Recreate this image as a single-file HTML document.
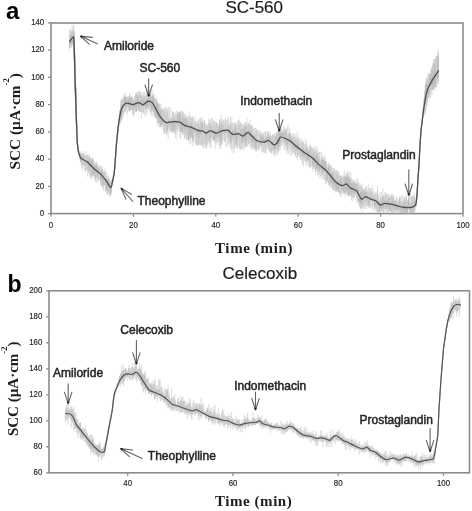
<!DOCTYPE html>
<html><head><meta charset="utf-8"><style>
html,body{margin:0;padding:0;background:#fff;}
body{width:472px;height:511px;overflow:hidden;}
svg{display:block;filter:blur(0.35px);}
</style></head><body>
<svg width="472" height="511" viewBox="0 0 472 511"><path d="M69.4,52.2 69.7,28.3 70.0,48.7 70.3,34.5 70.6,42.0 70.9,31.9 71.2,45.5 71.5,37.3 71.8,40.2 72.2,24.9 72.6,46.5 73.0,32.2 73.3,43.3 73.6,24.1 73.6,47.7 73.7,25.8 73.7,44.6 73.7,30.7 73.7,48.3 73.8,38.1 73.8,47.7 73.8,35.7 73.9,51.1 73.9,40.1 73.9,50.8 73.9,31.3 74.0,47.7 74.0,32.1 74.0,54.0 74.0,44.4 74.1,53.9 74.1,46.2 74.1,53.3 74.2,39.6 74.2,51.5 74.2,41.8 74.2,58.0 74.3,42.6 74.3,53.0 74.3,38.9 74.3,57.3 74.3,38.6 74.3,55.9 74.4,45.8 74.4,62.0 74.4,44.4 74.4,60.7 74.4,48.6 74.4,55.6 74.4,40.5 74.4,58.1 74.5,43.9 74.5,62.2 74.5,44.3 74.5,63.5 74.5,45.0 74.5,66.0 74.5,53.9 74.5,68.5 74.6,50.0 74.6,68.8 74.6,52.5 74.6,66.0 74.6,51.9 74.6,65.2 74.6,52.8 74.6,71.4 74.7,57.4 74.7,74.2 74.7,60.2 74.7,71.6 74.7,54.5 74.7,72.7 74.7,55.6 74.7,75.7 74.8,53.9 74.8,81.0 74.8,56.8 74.8,79.5 74.8,66.3 74.8,79.5 74.8,58.2 74.8,78.1 74.9,62.6 74.9,79.6 74.9,59.1 74.9,78.9 74.9,67.0 74.9,74.9 74.9,67.6 75.0,83.6 75.0,63.1 75.0,86.7 75.0,70.6 75.0,87.9 75.0,73.9 75.0,87.7 75.0,75.4 75.1,85.4 75.1,77.9 75.1,89.9 75.1,69.8 75.1,84.6 75.1,73.7 75.1,87.0 75.2,75.0 75.2,90.6 75.2,81.2 75.2,94.1 75.2,79.5 75.2,91.9 75.3,84.2 75.3,87.0 75.3,82.7 75.3,92.8 75.3,75.8 75.4,98.1 75.4,81.1 75.4,95.8 75.4,80.0 75.4,100.0 75.5,84.9 75.5,100.5 75.5,85.0 75.5,100.3 75.5,82.2 75.6,100.7 75.6,82.5 75.6,104.5 75.6,94.8 75.6,97.2 75.6,92.0 75.7,101.0 75.7,92.1 75.7,99.4 75.7,93.0 75.7,107.0 75.7,85.2 75.8,105.9 75.8,92.1 75.8,107.8 75.8,88.8 75.8,112.1 75.8,87.1 75.8,109.1 75.9,91.7 75.9,109.8 75.9,90.1 75.9,109.5 75.9,90.5 75.9,113.7 76.0,93.5 76.0,115.0 76.0,99.9 76.0,115.0 76.0,106.3 76.0,110.2 76.1,99.9 76.1,116.6 76.1,98.5 76.1,111.6 76.1,102.1 76.1,118.3 76.2,103.2 76.2,120.9 76.2,105.1 76.2,120.5 76.2,106.8 76.2,121.2 76.2,110.9 76.3,121.7 76.3,108.1 76.3,119.7 76.3,107.1 76.3,124.3 76.3,108.8 76.4,122.5 76.4,113.7 76.4,122.8 76.4,119.1 76.4,121.3 76.4,117.8 76.5,128.8 76.5,119.5 76.5,128.6 76.5,119.6 76.5,125.0 76.6,121.3 76.6,130.2 76.6,120.0 76.6,130.2 76.6,121.5 76.6,129.7 76.7,122.5 76.7,133.4 76.7,125.9 76.7,133.5 76.7,126.7 76.8,131.7 76.8,127.3 76.8,131.9 76.8,126.0 76.8,134.3 76.8,130.7 76.9,132.8 76.9,132.5 76.9,135.4 76.9,131.7 76.9,137.9 77.0,131.0 77.0,139.5 77.0,134.8 77.0,139.5 77.0,133.7 77.0,138.6 77.1,134.9 77.1,140.9 77.1,136.1 77.1,141.6 77.1,137.5 77.2,143.2 77.2,140.4 77.2,144.9 77.2,139.0 77.3,145.1 77.4,141.2 77.4,147.3 77.5,142.3 77.6,148.4 77.6,143.0 77.7,147.7 77.8,144.3 77.8,147.4 77.9,145.5 77.9,149.3 78.0,147.6 78.1,151.5 78.1,146.8 78.2,150.1 78.3,149.0 78.3,154.5 78.4,150.2 78.5,153.7 78.6,148.4 78.7,153.6 78.9,151.0 79.1,157.2 79.2,153.8 79.4,155.3 79.5,151.1 79.7,158.8 79.9,154.2 80.0,159.2 80.2,154.9 80.4,163.2 80.7,151.1 80.9,159.9 81.3,152.7 81.7,162.9 82.1,152.9 82.6,170.4 83.0,150.9 83.5,164.5 83.9,154.5 84.3,167.9 84.8,154.5 85.2,171.8 85.6,151.3 86.1,168.3 86.5,154.4 87.0,164.3 87.4,155.6 87.7,177.1 88.1,155.2 88.4,173.1 88.8,155.1 89.1,174.0 89.5,153.9 89.8,170.7 90.2,159.2 90.5,178.8 90.9,158.7 91.2,179.2 91.6,163.4 91.9,177.7 92.3,160.8 92.6,175.3 93.0,158.2 93.3,171.6 93.7,161.5 94.0,174.3 94.4,163.6 94.8,181.9 95.2,163.7 95.6,181.4 96.0,169.7 96.4,183.6 96.8,161.2 97.2,181.4 97.6,168.0 98.0,181.9 98.3,168.8 98.7,179.5 99.1,171.6 99.5,175.4 99.9,170.4 100.3,178.1 100.6,165.1 100.9,179.9 101.3,165.7 101.6,175.7 101.9,174.1 102.2,178.2 102.5,166.8 102.9,188.9 103.2,176.5 103.5,191.0 103.8,173.7 104.1,184.6 104.5,170.9 104.8,184.4 105.1,168.4 105.4,187.3 105.7,173.3 106.0,190.2 106.3,176.6 106.6,193.1 106.9,171.8 107.2,192.8 107.4,180.6 107.7,195.8 108.0,175.3 108.3,193.8 108.6,175.8 108.8,191.0 109.1,180.4 109.4,195.2 109.7,184.1 110.0,196.9 110.2,183.6 110.5,192.0 110.8,180.7 110.9,193.6 111.1,184.2 111.2,192.2 111.3,180.2 111.4,191.4 111.6,180.3 111.7,186.8 111.8,181.2 112.0,185.7 112.1,182.2 112.2,184.8 112.4,179.9 112.5,183.4 112.6,178.5 112.7,181.0 112.8,178.8 112.9,182.5 113.0,177.6 113.1,179.8 113.2,177.5 113.3,178.9 113.4,175.0 113.5,176.9 113.6,174.7 113.7,176.8 113.8,174.2 113.9,177.3 114.0,170.9 114.1,176.9 114.2,171.1 114.3,173.2 114.3,170.3 114.4,173.9 114.4,169.2 114.4,173.7 114.5,167.1 114.5,173.0 114.6,167.1 114.6,170.0 114.6,164.9 114.7,170.6 114.7,166.3 114.8,167.9 114.8,163.5 114.8,168.7 114.9,161.8 114.9,164.9 114.9,163.0 115.0,165.5 115.0,160.8 115.1,165.7 115.1,159.7 115.1,163.8 115.2,159.8 115.2,163.2 115.3,158.0 115.3,162.8 115.3,158.0 115.4,159.5 115.4,156.5 115.4,159.3 115.5,155.1 115.5,157.7 115.6,153.4 115.6,158.7 115.6,155.0 115.7,158.2 115.7,153.4 115.8,155.4 115.8,150.9 115.8,154.8 115.9,150.8 115.9,154.7 115.9,147.8 116.0,152.1 116.0,149.0 116.1,152.1 116.1,148.1 116.1,152.2 116.2,144.8 116.2,151.0 116.3,145.1 116.3,149.9 116.3,144.2 116.4,147.9 116.4,144.3 116.4,145.1 116.5,141.6 116.5,144.8 116.6,139.9 116.6,145.0 116.6,140.0 116.7,144.7 116.7,139.7 116.7,140.9 116.8,138.9 116.8,141.8 116.9,138.2 117.0,140.2 117.0,135.4 117.1,139.4 117.1,135.6 117.2,138.0 117.2,134.1 117.3,139.1 117.4,134.2 117.4,137.5 117.5,131.7 117.5,136.0 117.6,131.2 117.7,134.7 117.7,131.6 117.8,133.8 117.8,128.3 117.9,133.3 118.0,128.4 118.0,131.6 118.1,126.5 118.1,128.9 118.2,127.2 118.3,130.7 118.3,125.0 118.4,129.5 118.4,124.3 118.5,126.2 118.5,123.3 118.6,127.1 118.7,123.7 118.7,125.8 118.8,120.3 118.8,123.4 118.9,121.9 119.0,122.5 119.0,118.9 119.1,124.2 119.1,119.2 119.2,123.7 119.3,117.6 119.3,122.2 119.4,113.6 119.6,119.3 119.7,113.5 119.8,123.3 119.9,112.4 120.0,123.5 120.1,110.1 120.3,123.9 120.4,109.3 120.5,122.5 120.6,111.6 120.7,118.3 120.8,109.3 120.9,118.6 121.1,104.6 121.2,116.0 121.3,103.3 121.4,120.2 121.5,100.4 121.6,114.3 121.7,99.0 121.9,118.0 122.1,100.7 122.4,114.6 122.7,103.1 123.0,117.3 123.3,99.9 123.6,111.2 123.9,93.3 124.2,110.7 124.5,100.2 124.8,110.6 125.1,95.8 125.4,112.2 125.9,96.7 126.4,113.2 126.9,102.3 127.4,115.0 127.9,96.0 128.4,110.6 128.9,96.2 129.4,108.9 129.9,92.8 130.3,111.2 130.8,101.4 131.3,110.4 131.8,96.6 132.3,110.8 132.8,101.8 133.2,116.2 133.7,100.6 134.2,114.9 134.6,96.6 135.1,111.7 135.6,94.0 136.1,104.4 136.5,95.3 137.0,110.9 137.5,95.3 137.9,103.0 138.4,101.9 138.9,111.3 139.3,94.3 139.7,109.8 140.2,99.7 140.6,111.3 141.0,92.2 141.5,117.6 141.9,92.4 142.3,104.8 142.7,97.7 143.2,113.3 143.6,91.9 144.0,114.4 144.4,91.4 144.8,114.9 145.2,100.7 145.6,117.5 146.0,93.4 146.4,112.2 146.8,96.5 147.2,115.1 147.6,86.9 148.0,108.3 148.4,92.6 148.9,103.8 149.3,90.1 149.8,112.3 150.3,96.8 150.7,114.5 151.2,93.0 151.7,116.3 152.1,90.2 152.5,106.2 152.8,98.3 153.0,116.1 153.3,103.0 153.5,108.2 153.8,93.1 154.0,117.0 154.3,100.6 154.5,113.4 154.8,105.2 155.0,111.2 155.3,107.1 155.5,118.1 155.8,98.9 156.0,113.3 156.2,96.5 156.5,119.5 156.7,98.9 157.0,123.1 157.2,105.6 157.4,125.6 157.7,103.2 157.9,122.7 158.2,108.9 158.4,120.2 158.7,104.4 158.9,127.5 159.1,105.1 159.4,126.4 159.6,102.3 159.9,125.0 160.2,115.5 160.5,126.8 160.9,103.7 161.2,119.3 161.6,109.8 161.9,128.7 162.3,110.2 162.6,122.3 163.0,110.7 163.3,122.6 163.7,117.6 164.0,128.2 164.4,115.9 164.7,131.5 165.1,107.3 165.4,128.3 165.8,106.3 166.2,131.2 166.7,107.6 167.2,134.3 167.7,108.1 168.2,139.3 168.7,107.1 169.2,127.3 169.7,106.7 170.2,126.6 170.7,109.3 171.2,124.1 171.7,115.5 172.2,126.3 172.7,111.4 173.2,129.4 173.7,112.0 174.2,127.7 174.7,114.0 175.2,137.8 175.7,111.7 176.1,132.7 176.6,110.3 177.1,139.4 177.6,115.1 178.1,126.3 178.6,116.4 179.1,127.5 179.6,114.2 180.1,137.4 180.5,110.7 180.9,127.0 181.3,118.8 181.8,132.9 182.2,111.1 182.6,135.1 183.0,114.8 183.4,132.5 183.8,115.1 184.3,139.2 184.7,118.2 185.1,139.2 185.6,113.5 186.0,135.8 186.5,117.0 187.0,131.0 187.5,120.1 188.0,128.8 188.4,124.2 188.9,130.9 189.4,111.0 189.9,144.6 190.4,115.5 190.8,144.3 191.3,122.4 191.8,138.2 192.3,116.3 192.7,146.4 193.2,117.3 193.6,133.9 194.1,126.4 194.5,131.1 195.0,116.5 195.4,145.9 195.9,125.4 196.3,145.1 196.8,128.1 197.3,145.8 197.7,119.1 198.2,141.3 198.6,121.7 199.1,137.3 199.6,117.2 200.1,138.2 200.6,124.9 201.1,145.4 201.6,121.1 202.1,142.2 202.6,121.0 203.1,135.2 203.5,128.1 203.9,148.6 204.3,120.7 204.8,144.7 205.2,122.8 205.6,139.5 206.0,128.8 206.4,145.2 206.9,132.2 207.3,134.3 207.7,125.1 208.2,144.2 208.6,118.4 209.0,141.7 209.4,124.6 209.9,147.8 210.3,124.4 210.7,141.4 211.2,122.3 211.7,133.4 212.1,128.1 212.6,132.3 213.1,119.7 213.5,141.0 214.0,120.7 214.4,142.5 214.9,123.3 215.4,148.5 215.8,125.2 216.3,136.9 216.7,122.3 217.2,134.6 217.7,123.5 218.1,141.2 218.6,124.2 219.0,145.9 219.5,119.2 220.0,149.2 220.4,118.2 220.9,148.6 221.4,114.6 221.8,141.9 222.3,122.4 222.8,132.7 223.3,120.2 223.8,133.8 224.3,124.2 224.8,142.1 225.3,120.7 225.8,147.6 226.3,119.9 226.8,146.1 227.3,128.9 227.8,145.0 228.3,116.9 228.6,131.7 229.0,122.6 229.3,145.6 229.7,127.4 230.1,147.7 230.4,116.6 230.8,148.9 231.1,120.7 231.5,150.0 231.8,117.0 232.2,153.6 232.6,125.9 233.1,149.2 233.6,130.5 234.1,153.1 234.6,131.4 235.1,143.0 235.6,122.0 236.1,141.4 236.6,124.1 237.0,143.5 237.5,121.5 238.0,145.0 238.5,119.2 239.0,147.6 239.4,120.5 239.9,135.7 240.3,123.4 240.7,149.5 241.2,131.2 241.6,149.6 242.1,123.7 242.5,138.8 242.9,126.2 243.3,142.8 243.7,128.4 244.1,150.4 244.5,125.6 244.9,143.7 245.3,122.8 245.7,142.1 246.1,130.1 246.5,147.4 246.9,129.0 247.3,146.9 247.7,118.2 248.1,142.0 248.5,129.5 248.8,142.5 249.2,124.3 249.6,146.8 250.0,119.8 250.4,140.7 250.7,133.4 251.1,149.3 251.5,135.3 251.9,148.9 252.3,124.5 252.6,148.9 253.0,130.0 253.3,141.9 253.7,128.5 254.1,145.5 254.4,128.3 254.8,143.0 255.2,131.4 255.5,151.3 255.9,130.8 256.3,152.1 256.6,130.2 257.1,144.0 257.5,131.5 258.0,145.0 258.5,138.7 259.0,150.5 259.5,140.6 260.0,143.2 260.5,134.7 260.9,145.5 261.4,132.3 261.9,147.1 262.4,136.9 262.9,150.3 263.4,134.2 263.8,152.9 264.3,131.3 264.8,153.3 265.3,138.7 265.7,143.4 266.2,131.3 266.7,147.9 267.2,139.2 267.6,149.0 268.1,134.7 268.6,145.2 269.0,130.6 269.4,151.3 269.7,136.0 270.1,151.3 270.5,137.3 270.9,154.0 271.3,136.0 271.7,150.5 272.1,139.5 272.4,151.0 272.8,138.5 273.2,154.9 273.6,141.2 274.0,153.2 274.5,136.9 274.9,156.4 275.4,134.4 275.8,152.2 276.3,139.7 276.7,146.4 277.1,133.2 277.4,155.6 277.6,139.2 277.9,150.0 278.1,133.3 278.4,142.0 278.6,129.7 278.9,148.3 279.1,131.2 279.4,150.8 279.6,128.7 279.9,143.3 280.1,123.7 280.4,150.4 280.8,126.9 281.2,140.4 281.7,128.2 282.2,137.7 282.7,132.2 283.2,145.0 283.6,130.1 284.1,149.4 284.6,128.9 285.1,148.7 285.6,129.8 286.0,150.3 286.4,133.9 286.9,152.7 287.3,125.7 287.7,153.5 288.2,125.1 288.6,153.0 289.1,133.7 289.5,154.5 289.9,128.0 290.4,149.9 290.8,138.1 291.2,156.1 291.5,136.6 291.9,147.0 292.3,133.0 292.7,154.9 293.0,137.8 293.4,148.3 293.8,133.1 294.2,153.0 294.6,135.8 294.9,154.1 295.3,134.0 295.7,156.9 296.1,140.1 296.4,153.7 296.8,132.0 297.2,160.1 297.6,137.1 298.0,154.3 298.4,134.4 298.8,154.3 299.2,140.3 299.6,157.8 300.0,138.3 300.4,160.1 300.8,138.7 301.2,155.3 301.6,142.8 302.0,163.1 302.4,140.0 302.8,165.2 303.2,148.8 303.5,166.6 303.9,142.3 304.3,159.3 304.8,149.3 305.2,155.6 305.6,138.8 306.0,165.3 306.4,139.7 306.8,166.1 307.2,147.0 307.6,158.9 308.0,146.5 308.5,160.3 308.9,151.5 309.3,164.7 309.7,147.0 310.1,168.7 310.5,145.4 310.9,158.0 311.3,153.3 311.7,166.0 312.2,147.2 312.6,171.5 312.9,148.4 313.3,167.9 313.6,158.5 314.0,167.8 314.4,146.3 314.7,162.6 315.1,150.3 315.4,174.7 315.8,146.6 316.1,162.7 316.5,155.1 316.8,167.2 317.2,147.6 317.5,175.7 317.9,156.9 318.2,171.7 318.6,152.1 318.9,165.9 319.3,159.9 319.7,178.1 320.1,158.1 320.5,171.7 320.9,151.4 321.2,178.2 321.6,152.4 322.0,179.4 322.4,157.4 322.8,172.5 323.2,155.9 323.6,178.2 324.0,156.3 324.4,180.1 324.8,155.5 325.2,171.9 325.5,165.0 325.8,184.2 326.1,158.3 326.5,184.7 326.8,169.0 327.1,181.7 327.5,171.3 327.8,177.1 328.1,170.8 328.4,178.4 328.8,167.2 329.1,176.7 329.4,163.2 329.7,184.1 330.1,164.4 330.4,187.8 330.7,170.0 331.0,181.4 331.4,170.2 331.7,188.0 332.0,167.6 332.3,187.9 332.7,173.2 333.0,182.1 333.3,170.5 333.6,191.3 334.0,174.0 334.3,190.9 334.6,169.1 334.9,187.9 335.2,170.3 335.7,193.1 336.1,177.0 336.5,187.4 336.9,174.9 337.4,187.0 337.8,175.6 338.2,193.1 338.6,171.4 339.0,193.1 339.5,174.7 339.9,196.2 340.3,180.0 340.7,195.3 341.2,177.6 341.6,197.2 342.0,180.5 342.5,191.0 342.9,181.4 343.4,192.9 343.9,172.9 344.3,190.9 344.8,170.2 345.3,196.5 345.7,178.1 346.2,192.8 346.6,173.6 346.9,188.4 347.3,173.4 347.6,196.0 348.0,170.7 348.3,192.6 348.7,181.8 349.1,196.5 349.4,172.3 349.8,191.0 350.1,181.9 350.5,191.4 350.9,172.4 351.4,200.7 351.8,185.3 352.3,201.5 352.7,179.9 353.2,190.6 353.7,186.9 354.1,195.5 354.6,187.9 355.0,194.7 355.5,187.6 355.9,194.6 356.4,187.1 356.7,199.3 356.9,178.0 357.2,204.0 357.4,182.4 357.7,195.0 357.9,178.7 358.2,196.0 358.5,193.3 358.7,204.8 359.0,185.2 359.2,205.1 359.5,190.2 359.7,207.0 360.0,184.8 360.3,198.8 360.5,183.5 360.8,208.5 361.0,185.1 361.3,207.0 361.6,186.0 362.0,212.3 362.4,183.6 362.9,204.6 363.3,193.0 363.7,208.7 364.1,188.0 364.6,209.7 365.0,187.6 365.4,200.9 365.9,188.7 366.3,209.2 366.7,186.0 367.2,201.6 367.6,192.3 368.1,204.9 368.5,183.6 369.0,207.2 369.4,191.7 369.9,203.8 370.3,192.8 370.7,208.3 371.2,193.6 371.7,202.7 372.2,185.3 372.6,210.6 373.1,188.4 373.6,205.8 374.1,191.1 374.6,212.5 375.0,193.9 375.5,208.8 376.0,197.3 376.3,208.9 376.7,198.3 377.0,212.5 377.4,186.3 377.7,205.3 378.1,194.7 378.4,212.5 378.8,199.6 379.1,212.5 379.5,200.7 379.8,212.5 380.2,191.9 380.7,212.5 381.1,191.9 381.6,210.5 382.1,194.5 382.5,207.6 383.0,188.8 383.4,212.5 383.9,194.7 384.4,212.3 384.9,192.0 385.4,210.4 385.9,196.0 386.4,212.5 386.9,199.1 387.4,212.5 387.8,193.7 388.3,211.5 388.8,195.5 389.3,204.7 389.8,197.6 390.3,211.2 390.8,202.2 391.3,204.9 391.8,203.9 392.3,212.5 392.8,204.1 393.3,212.5 393.7,195.3 394.2,212.5 394.7,203.4 395.2,212.5 395.7,200.4 396.2,212.5 396.6,198.7 397.1,209.6 397.6,198.2 398.1,211.3 398.6,202.4 399.1,212.5 399.5,201.6 400.0,212.5 400.5,196.0 401.0,212.5 401.5,196.4 402.0,212.5 402.4,194.6 402.9,207.8 403.4,202.0 403.9,212.5 404.4,198.8 404.9,212.5 405.4,199.8 405.9,212.5 406.4,196.3 406.9,212.0 407.4,200.6 407.9,212.5 408.4,200.9 408.9,212.5 409.4,203.7 409.9,211.8 410.4,193.1 410.9,211.7 411.4,203.0 411.9,208.1 412.4,204.6 412.8,212.5 413.2,196.5 413.6,212.5 414.0,192.4 414.4,211.4 414.8,196.9 415.2,210.4 415.6,201.0 415.8,208.2 415.8,201.7 415.9,205.8 416.0,200.8 416.0,203.6 416.1,200.8 416.2,201.9 416.3,199.3 416.3,202.2 416.4,198.4 416.5,200.3 416.5,197.3 416.6,199.2 416.7,196.2 416.7,199.4 416.8,196.0 416.9,197.9 416.9,194.8 417.0,196.5 417.0,193.1 417.0,195.4 417.0,192.1 417.1,195.4 417.1,192.4 417.1,194.5 417.2,190.8 417.2,192.6 417.2,189.7 417.3,191.6 417.3,188.8 417.3,191.2 417.3,188.0 417.4,189.1 417.4,186.3 417.4,188.7 417.5,185.7 417.5,187.1 417.5,184.4 417.6,187.0 417.6,183.5 417.6,186.4 417.6,183.6 417.7,184.8 417.7,182.7 417.7,183.6 417.8,180.5 417.8,183.3 417.8,180.1 417.9,182.4 417.9,178.1 417.9,181.4 418.0,177.8 418.0,180.0 418.0,176.8 418.1,177.9 418.1,176.2 418.1,178.4 418.2,175.3 418.2,176.9 418.2,173.2 418.3,175.9 418.3,172.3 418.4,175.2 418.4,172.4 418.4,172.8 418.5,170.4 418.5,173.4 418.5,169.4 418.6,172.8 418.6,169.3 418.6,170.0 418.7,166.9 418.7,170.8 418.7,165.6 418.8,169.8 418.8,165.7 418.9,168.2 418.9,164.2 418.9,167.2 419.0,163.7 419.0,166.6 419.0,162.2 419.1,163.8 419.1,161.0 419.1,163.7 419.2,160.4 419.2,163.6 419.2,159.4 419.2,161.5 419.3,158.3 419.3,160.9 419.3,158.3 419.3,159.3 419.3,156.0 419.4,159.0 419.4,155.7 419.4,157.8 419.4,154.4 419.5,157.3 419.5,153.2 419.5,155.5 419.5,152.5 419.6,155.0 419.6,152.6 419.6,154.7 419.6,150.3 419.7,153.1 419.7,149.5 419.7,152.2 419.7,148.7 419.8,151.1 419.8,147.1 419.8,149.8 419.8,146.4 419.9,147.7 419.9,146.1 419.9,148.2 419.9,144.5 420.0,146.0 420.0,144.0 420.0,145.8 420.1,142.3 420.1,144.1 420.2,142.5 420.2,143.5 420.2,140.9 420.3,143.3 420.3,139.9 420.3,142.4 420.4,139.2 420.4,140.8 420.4,137.1 420.5,139.9 420.5,136.7 420.6,138.9 420.6,136.6 420.6,138.2 420.7,135.8 420.7,136.3 420.7,133.1 420.8,136.6 420.8,131.7 420.8,135.6 420.9,131.8 420.9,133.5 420.9,131.2 421.0,132.6 421.0,128.8 421.1,132.0 421.1,128.5 421.1,131.2 421.2,128.5 421.3,130.4 421.3,128.1 421.4,129.4 421.4,126.2 421.5,128.9 421.6,124.5 421.6,127.0 421.7,124.6 421.7,125.6 421.8,123.2 421.9,125.7 421.9,121.8 422.0,124.0 422.0,120.8 422.1,122.8 422.2,119.5 422.2,122.0 422.3,118.8 422.3,121.3 422.4,117.7 422.5,119.4 422.5,116.2 422.6,118.4 422.7,115.6 422.7,118.7 422.8,114.1 422.8,116.8 422.9,113.8 423.0,116.4 423.0,113.3 423.1,115.4 423.2,110.7 423.2,114.2 423.3,108.4 423.3,116.6 423.4,111.1 423.5,116.4 423.5,106.0 423.6,115.6 423.7,104.1 423.8,113.6 423.9,106.5 423.9,111.6 424.0,106.0 424.1,113.2 424.2,98.2 424.3,111.2 424.3,94.4 424.4,115.5 424.5,99.1 424.6,109.7 424.7,98.2 424.7,107.7 424.8,91.1 424.9,113.2 425.0,85.4 425.0,110.4 425.1,90.7 425.2,114.0 425.3,97.0 425.4,108.3 425.5,90.4 425.6,110.2 425.7,89.0 425.8,101.1 425.9,79.1 426.0,110.5 426.1,79.0 426.2,99.5 426.3,86.0 426.5,101.8 426.6,83.9 426.7,102.6 426.8,77.9 426.9,106.0 427.0,77.5 427.1,103.1 427.2,80.4 427.3,96.4 427.5,73.4 427.7,96.7 428.0,72.9 428.2,99.6 428.4,79.8 428.6,92.5 428.9,73.4 429.1,97.4 429.3,74.3 429.5,95.0 429.8,77.9 430.0,98.1 430.2,73.3 430.4,97.4 430.6,68.3 430.9,94.8 431.1,77.0 431.3,86.2 431.5,72.2 431.8,95.4 432.0,75.9 432.2,82.7 432.5,73.5 432.7,85.4 433.0,66.1 433.3,82.3 433.6,62.7 433.8,88.2 434.1,63.9 434.4,90.2 434.7,67.1 434.9,90.7 435.2,63.9 435.5,86.7 435.7,58.3 436.0,82.6 436.3,56.7 436.6,75.5 436.8,59.9 437.1,83.1 437.4,68.1 437.7,83.9 437.9,49.2 438.2,84.0 438.5,59.8" fill="none" stroke="#dedede" stroke-width="0.6"/><path d="M69.4,44.3 69.6,34.6 69.8,47.5 70.0,40.0 70.2,43.2 70.4,30.5 70.6,41.7 70.8,37.0 71.0,47.9 71.2,31.4 71.5,43.3 71.7,31.7 72.0,45.0 72.2,33.6 72.5,40.5 72.8,28.8 73.0,44.4 73.3,30.6 73.6,44.4 73.6,30.3 73.6,45.8 73.7,34.5 73.7,44.0 73.7,32.4 73.7,43.3 73.7,32.2 73.8,43.1 73.8,31.0 73.8,48.6 73.8,37.9 73.8,47.0 73.8,36.2 73.9,43.9 73.9,31.1 73.9,48.2 73.9,39.5 73.9,51.1 74.0,39.2 74.0,53.5 74.0,39.7 74.0,45.9 74.0,40.6 74.1,50.6 74.1,38.0 74.1,55.6 74.1,36.3 74.1,51.9 74.2,46.4 74.2,50.7 74.2,35.7 74.2,54.1 74.2,38.9 74.2,50.5 74.3,48.0 74.3,57.9 74.3,41.0 74.3,55.0 74.3,44.7 74.3,53.1 74.3,47.5 74.3,52.7 74.4,40.9 74.4,58.5 74.4,49.5 74.4,61.4 74.4,49.1 74.4,55.6 74.4,45.0 74.4,63.9 74.4,53.8 74.4,63.5 74.4,51.5 74.5,58.0 74.5,55.5 74.5,60.9 74.5,47.4 74.5,63.3 74.5,46.8 74.5,61.5 74.5,52.9 74.5,62.5 74.5,48.3 74.5,67.6 74.5,54.6 74.6,65.1 74.6,55.5 74.6,67.6 74.6,59.9 74.6,63.1 74.6,56.2 74.6,65.6 74.6,53.3 74.6,69.7 74.6,56.4 74.6,69.9 74.7,55.4 74.7,71.4 74.7,54.8 74.7,67.5 74.7,57.8 74.7,68.1 74.7,60.1 74.7,73.4 74.7,57.2 74.7,74.0 74.7,66.4 74.7,72.0 74.8,65.0 74.8,76.7 74.8,66.0 74.8,72.5 74.8,64.3 74.8,71.3 74.8,60.7 74.8,76.8 74.8,67.9 74.8,76.8 74.8,69.7 74.9,78.2 74.9,68.4 74.9,73.8 74.9,70.6 74.9,79.1 74.9,66.1 74.9,78.1 74.9,66.6 74.9,79.0 74.9,72.5 75.0,79.5 75.0,70.2 75.0,84.3 75.0,73.7 75.0,79.0 75.0,68.8 75.0,86.9 75.0,66.8 75.0,85.6 75.0,76.7 75.0,87.2 75.1,70.5 75.1,82.4 75.1,73.3 75.1,81.8 75.1,71.0 75.1,88.2 75.1,71.3 75.1,89.1 75.1,77.4 75.1,90.3 75.1,78.2 75.2,85.8 75.2,77.5 75.2,89.6 75.2,79.6 75.2,90.6 75.2,77.3 75.2,89.1 75.2,76.9 75.2,90.9 75.3,76.2 75.3,91.2 75.3,76.3 75.3,92.8 75.3,80.2 75.3,94.7 75.3,81.4 75.4,92.4 75.4,77.9 75.4,91.5 75.4,84.7 75.4,96.2 75.4,89.5 75.4,93.6 75.5,81.3 75.5,99.0 75.5,84.3 75.5,100.0 75.5,83.8 75.5,96.9 75.5,85.4 75.6,98.2 75.6,84.7 75.6,99.3 75.6,91.4 75.6,103.6 75.6,86.2 75.6,103.7 75.6,88.3 75.7,104.2 75.7,89.7 75.7,103.6 75.7,95.8 75.7,104.4 75.7,87.6 75.7,106.5 75.7,88.8 75.7,105.3 75.8,89.2 75.8,102.1 75.8,90.3 75.8,105.5 75.8,98.9 75.8,107.5 75.8,95.6 75.8,106.9 75.8,93.2 75.9,105.2 75.9,95.3 75.9,108.3 75.9,96.9 75.9,110.0 75.9,101.3 75.9,111.2 75.9,94.0 75.9,108.9 76.0,105.4 76.0,108.1 76.0,99.0 76.0,116.7 76.0,105.8 76.0,116.9 76.0,100.5 76.0,110.8 76.0,102.5 76.1,112.1 76.1,101.3 76.1,115.5 76.1,105.4 76.1,114.0 76.1,101.4 76.1,118.2 76.1,105.5 76.1,116.2 76.2,104.4 76.2,120.0 76.2,111.2 76.2,115.6 76.2,108.8 76.2,118.8 76.2,112.9 76.2,115.9 76.2,111.9 76.3,119.2 76.3,108.8 76.3,121.2 76.3,115.6 76.3,117.9 76.3,111.6 76.3,124.1 76.3,110.2 76.3,121.7 76.4,111.4 76.4,125.0 76.4,115.0 76.4,124.6 76.4,116.3 76.4,122.1 76.4,115.8 76.4,122.3 76.5,116.2 76.5,126.5 76.5,115.9 76.5,125.7 76.5,121.3 76.5,128.0 76.5,117.8 76.5,128.8 76.6,119.9 76.6,128.4 76.6,121.8 76.6,126.9 76.6,123.2 76.6,129.7 76.6,123.7 76.6,130.3 76.7,123.6 76.7,130.1 76.7,122.5 76.7,129.5 76.7,125.3 76.7,130.0 76.7,124.4 76.7,132.1 76.8,127.6 76.8,131.4 76.8,127.5 76.8,132.9 76.8,130.2 76.8,132.0 76.8,129.9 76.8,134.7 76.9,130.2 76.9,136.0 76.9,130.1 76.9,136.7 76.9,131.3 76.9,136.2 76.9,132.8 76.9,136.6 77.0,133.9 77.0,136.1 77.0,133.9 77.0,137.5 77.0,136.6 77.0,138.8 77.0,135.5 77.1,139.4 77.1,136.8 77.1,140.6 77.1,138.1 77.1,139.4 77.1,137.7 77.1,141.8 77.1,137.8 77.2,142.3 77.2,138.6 77.2,141.6 77.2,141.5 77.2,144.1 77.3,141.4 77.3,143.2 77.3,142.5 77.4,144.8 77.4,142.6 77.5,145.9 77.5,142.0 77.6,146.2 77.6,144.3 77.7,147.6 77.7,145.9 77.8,147.7 77.8,145.3 77.8,148.4 77.9,146.9 77.9,149.4 78.0,146.0 78.0,150.6 78.1,146.1 78.1,150.4 78.2,147.3 78.2,151.3 78.2,149.0 78.3,153.0 78.3,148.4 78.4,154.0 78.4,148.9 78.5,154.5 78.6,151.4 78.7,152.7 78.8,151.8 78.9,154.8 79.0,151.0 79.1,155.6 79.2,152.0 79.4,157.1 79.5,154.2 79.6,157.6 79.7,155.0 79.8,157.1 79.9,153.5 80.0,159.1 80.2,154.7 80.3,159.1 80.4,153.2 80.6,160.1 80.8,157.4 81.0,161.1 81.2,158.0 81.5,166.1 81.8,156.8 82.1,168.7 82.5,156.0 82.8,164.1 83.1,153.3 83.4,164.9 83.7,154.9 84.0,162.7 84.3,155.2 84.6,161.4 84.9,157.1 85.2,170.7 85.5,157.3 85.8,165.3 86.1,155.0 86.4,170.5 86.7,157.9 87.0,167.1 87.3,155.4 87.6,170.7 87.8,156.4 88.1,165.9 88.3,160.3 88.6,171.5 88.8,157.0 89.1,173.1 89.3,157.0 89.5,170.4 89.8,161.9 90.0,176.1 90.3,157.2 90.5,173.7 90.8,157.8 91.0,172.1 91.3,161.5 91.5,174.1 91.8,160.8 92.0,176.0 92.3,158.0 92.5,177.3 92.7,162.7 93.0,173.6 93.2,159.4 93.5,174.3 93.7,160.7 94.0,171.1 94.2,163.7 94.5,176.2 94.8,162.3 95.0,179.6 95.3,167.3 95.6,177.9 95.9,164.0 96.1,173.6 96.4,163.4 96.7,178.0 97.0,163.2 97.2,174.8 97.5,166.2 97.8,176.9 98.1,165.7 98.3,180.4 98.6,167.1 98.9,177.8 99.2,167.6 99.5,178.6 99.7,165.7 100.0,180.1 100.3,168.7 100.5,178.5 100.7,170.9 100.9,184.8 101.2,171.0 101.4,184.8 101.6,169.6 101.8,186.2 102.1,173.3 102.3,187.4 102.5,169.3 102.7,184.5 102.9,170.0 103.2,186.4 103.4,172.6 103.6,185.9 103.8,174.9 104.1,179.1 104.3,172.3 104.5,185.5 104.7,171.6 105.0,183.9 105.2,172.3 105.4,191.2 105.6,172.1 105.9,191.7 106.1,178.1 106.3,184.6 106.5,178.0 106.7,187.4 106.9,179.9 107.1,185.4 107.3,181.8 107.4,193.9 107.6,178.7 107.8,191.8 108.0,178.8 108.2,193.1 108.4,177.2 108.6,190.5 108.8,179.2 109.0,187.6 109.2,181.6 109.4,190.0 109.6,181.9 109.8,191.8 110.0,180.6 110.2,192.5 110.4,183.4 110.6,195.6 110.8,187.3 110.9,187.7 111.0,186.1 111.1,193.7 111.1,182.6 111.2,191.0 111.3,181.5 111.4,187.2 111.5,181.5 111.6,186.4 111.7,182.2 111.8,186.8 111.9,181.2 112.0,184.5 112.1,181.5 112.1,183.0 112.2,181.3 112.3,184.5 112.4,179.4 112.5,183.0 112.6,178.8 112.7,183.0 112.7,179.1 112.8,182.4 112.9,178.2 112.9,180.0 113.0,177.3 113.1,180.3 113.1,176.4 113.2,179.8 113.3,177.3 113.4,179.0 113.4,174.6 113.5,178.4 113.6,173.8 113.6,177.4 113.7,173.4 113.8,175.9 113.8,172.6 113.9,175.9 114.0,171.9 114.0,175.0 114.1,171.7 114.2,175.3 114.2,170.7 114.3,174.4 114.3,169.4 114.4,172.3 114.4,170.8 114.4,172.8 114.4,168.3 114.5,172.2 114.5,168.9 114.5,170.2 114.5,167.8 114.6,170.4 114.6,167.1 114.6,170.0 114.7,166.8 114.7,169.9 114.7,166.1 114.7,167.4 114.8,165.3 114.8,168.6 114.8,164.9 114.8,166.7 114.9,162.4 114.9,166.2 114.9,161.7 115.0,164.4 115.0,160.9 115.0,164.5 115.0,162.1 115.1,164.9 115.1,159.6 115.1,164.7 115.1,159.4 115.2,163.6 115.2,158.5 115.2,162.2 115.3,159.5 115.3,162.0 115.3,158.1 115.3,160.3 115.4,157.2 115.4,158.7 115.4,157.9 115.4,158.8 115.5,155.7 115.5,159.1 115.5,154.3 115.5,158.5 115.6,153.7 115.6,157.5 115.6,153.3 115.7,156.8 115.7,154.1 115.7,154.7 115.7,151.8 115.8,154.5 115.8,151.0 115.8,154.4 115.8,152.4 115.9,154.2 115.9,150.1 115.9,152.0 115.9,149.9 116.0,152.1 116.0,148.9 116.0,152.5 116.1,148.8 116.1,151.2 116.1,146.9 116.1,151.5 116.2,147.6 116.2,148.6 116.2,146.7 116.2,148.3 116.3,146.1 116.3,147.1 116.3,145.3 116.3,146.8 116.4,144.0 116.4,147.1 116.4,143.5 116.5,145.3 116.5,143.6 116.5,144.8 116.5,142.7 116.6,144.6 116.6,140.6 116.6,144.4 116.6,141.2 116.7,142.0 116.7,140.9 116.7,142.6 116.7,139.2 116.8,142.4 116.8,139.4 116.8,140.7 116.9,137.1 116.9,140.8 117.0,136.8 117.0,140.8 117.1,137.2 117.1,138.5 117.1,135.3 117.2,138.7 117.2,133.8 117.3,138.8 117.3,133.9 117.3,137.8 117.4,133.0 117.4,135.5 117.5,132.5 117.5,135.3 117.5,132.3 117.6,134.2 117.6,132.9 117.7,135.2 117.7,130.1 117.8,134.3 117.8,130.3 117.8,132.9 117.9,130.0 117.9,132.7 118.0,127.6 118.0,132.4 118.0,126.7 118.1,130.4 118.1,126.5 118.2,129.3 118.2,126.2 118.3,128.5 118.3,125.5 118.3,129.1 118.4,125.4 118.4,127.8 118.5,123.9 118.5,127.3 118.5,123.9 118.6,125.7 118.6,123.5 118.7,126.8 118.7,121.3 118.7,125.1 118.8,120.9 118.8,125.3 118.9,121.6 118.9,123.3 119.0,120.0 119.0,122.7 119.0,118.7 119.1,122.2 119.1,118.2 119.2,122.6 119.2,118.7 119.2,122.5 119.3,117.4 119.4,119.7 119.4,117.8 119.5,120.7 119.6,114.3 119.7,119.5 119.8,112.3 119.8,119.1 119.9,111.1 120.0,116.7 120.1,113.0 120.2,117.5 120.2,110.7 120.3,118.3 120.4,110.3 120.5,121.0 120.6,107.9 120.6,119.5 120.7,107.9 120.8,120.8 120.9,106.0 121.0,120.9 121.0,100.8 121.1,119.9 121.2,104.0 121.3,115.5 121.4,99.2 121.4,120.0 121.5,99.2 121.6,113.7 121.7,102.1 121.8,119.5 121.9,103.4 122.0,117.7 122.2,99.8 122.4,111.5 122.6,101.2 122.8,108.9 123.0,98.0 123.2,114.5 123.4,104.9 123.6,110.1 123.9,97.2 124.1,108.5 124.3,98.3 124.5,113.0 124.7,97.5 124.9,106.5 125.1,94.4 125.3,111.5 125.7,96.4 126.0,108.2 126.4,96.4 126.7,108.7 127.1,100.9 127.4,105.9 127.8,102.1 128.1,106.5 128.5,99.4 128.8,110.8 129.1,96.0 129.5,111.4 129.8,94.4 130.2,106.0 130.5,97.9 130.8,106.3 131.2,97.4 131.5,106.5 131.8,102.2 132.2,107.2 132.5,97.8 132.9,114.9 133.2,99.1 133.5,114.5 133.8,99.5 134.2,109.6 134.5,96.5 134.8,106.2 135.2,96.5 135.5,112.4 135.8,92.6 136.2,105.3 136.5,92.7 136.8,111.7 137.1,94.4 137.5,104.8 137.8,92.1 138.1,107.4 138.5,94.8 138.8,110.5 139.1,91.5 139.4,111.4 139.7,91.2 140.0,108.0 140.3,94.1 140.6,111.8 140.9,96.2 141.2,112.5 141.5,96.1 141.8,110.0 142.1,95.5 142.4,107.0 142.7,97.6 143.0,111.8 143.3,100.8 143.6,112.6 143.8,95.5 144.1,107.0 144.4,98.9 144.7,105.5 145.0,95.7 145.2,105.6 145.5,98.6 145.8,109.7 146.1,95.9 146.4,103.8 146.6,90.5 146.9,106.9 147.2,92.7 147.5,106.4 147.8,92.4 148.1,107.6 148.4,95.4 148.7,108.6 149.0,93.5 149.3,109.8 149.7,93.2 150.0,106.7 150.3,99.8 150.6,107.0 151.0,97.0 151.3,110.6 151.6,96.4 152.0,107.8 152.3,100.5 152.5,110.7 152.7,100.9 152.9,111.0 153.0,95.0 153.2,112.3 153.4,101.2 153.6,110.9 153.7,94.8 153.9,107.7 154.1,97.8 154.3,112.1 154.4,98.9 154.6,112.4 154.8,104.3 155.0,114.6 155.1,107.3 155.3,117.3 155.5,99.2 155.7,114.0 155.8,102.0 156.0,116.0 156.2,99.3 156.3,111.1 156.5,105.4 156.7,116.1 156.8,101.7 157.0,119.4 157.2,105.4 157.4,112.2 157.5,104.0 157.7,118.1 157.9,109.9 158.0,120.6 158.2,106.8 158.4,118.4 158.5,109.2 158.7,120.9 158.9,110.0 159.0,120.5 159.2,104.8 159.4,122.1 159.6,111.1 159.7,123.0 159.9,105.7 160.1,126.7 160.3,108.3 160.6,127.1 160.8,108.1 161.1,126.2 161.3,111.5 161.6,121.1 161.8,109.7 162.1,126.6 162.3,108.1 162.5,124.2 162.8,109.6 163.0,123.8 163.3,109.3 163.5,132.4 163.8,118.6 164.0,126.3 164.3,108.6 164.5,134.0 164.8,111.6 165.0,125.0 165.2,121.2 165.5,127.6 165.7,110.2 166.0,134.1 166.4,115.2 166.7,133.2 167.1,111.3 167.4,128.2 167.7,111.3 168.1,127.7 168.4,116.4 168.8,123.8 169.1,118.6 169.5,130.6 169.8,121.0 170.2,130.7 170.5,118.4 170.9,132.5 171.2,119.0 171.6,126.4 171.9,117.1 172.3,131.2 172.6,111.4 173.0,132.9 173.3,112.5 173.7,132.0 174.0,114.1 174.4,128.3 174.7,117.9 175.1,134.4 175.4,114.8 175.8,132.5 176.1,119.7 176.4,129.2 176.8,119.3 177.1,129.1 177.5,112.5 177.8,129.2 178.2,112.0 178.5,126.4 178.9,114.7 179.2,131.9 179.6,113.6 179.9,128.9 180.2,111.6 180.5,138.7 180.8,110.9 181.1,124.7 181.4,114.3 181.7,132.3 182.0,113.8 182.3,127.3 182.6,112.5 182.8,134.1 183.1,111.5 183.4,125.8 183.7,117.4 184.0,134.9 184.3,114.4 184.6,137.6 184.9,121.7 185.2,132.4 185.5,116.5 185.9,133.9 186.2,121.2 186.5,139.6 186.9,115.9 187.2,133.7 187.5,118.5 187.9,140.1 188.2,122.1 188.5,140.4 188.9,115.8 189.2,138.8 189.6,117.9 189.9,138.7 190.2,118.9 190.6,138.1 190.9,123.1 191.2,138.0 191.6,117.5 191.9,138.0 192.2,117.6 192.5,137.4 192.9,116.9 193.2,141.3 193.5,125.6 193.8,142.4 194.1,122.6 194.4,132.1 194.8,125.5 195.1,137.3 195.4,120.2 195.7,137.8 196.0,124.5 196.3,144.3 196.7,122.4 197.0,145.5 197.3,124.7 197.6,142.8 197.9,123.7 198.3,145.2 198.6,120.4 198.9,143.8 199.3,127.8 199.6,144.9 200.0,123.8 200.3,144.7 200.7,118.3 201.0,135.3 201.4,130.0 201.7,145.3 202.1,117.3 202.4,147.0 202.8,122.8 203.1,145.9 203.4,130.2 203.7,134.1 204.0,122.1 204.3,143.0 204.5,120.0 204.8,138.6 205.1,125.0 205.4,147.6 205.7,127.2 206.0,141.5 206.3,124.2 206.6,148.4 206.9,128.5 207.2,144.8 207.5,125.4 207.8,140.4 208.1,127.0 208.4,140.9 208.7,123.5 209.0,140.0 209.3,122.8 209.6,143.0 209.9,119.4 210.2,142.2 210.5,123.3 210.8,147.3 211.2,126.5 211.5,133.4 211.8,118.1 212.1,138.2 212.5,127.6 212.8,140.6 213.1,125.2 213.4,139.7 213.7,121.2 214.1,138.3 214.4,129.3 214.7,137.4 215.0,121.7 215.4,140.6 215.7,127.1 216.0,144.4 216.3,122.4 216.6,141.7 217.0,123.1 217.3,138.7 217.6,126.6 217.9,142.8 218.3,127.5 218.6,139.0 218.9,127.7 219.2,138.5 219.6,120.2 219.9,145.2 220.2,128.6 220.5,139.0 220.8,121.1 221.2,144.9 221.5,122.5 221.8,143.2 222.1,125.7 222.5,143.5 222.8,119.3 223.2,139.4 223.5,125.3 223.9,132.3 224.2,121.1 224.6,141.7 224.9,130.4 225.3,140.8 225.6,117.8 226.0,132.0 226.3,126.8 226.7,132.8 227.0,123.5 227.4,137.8 227.7,119.8 228.1,132.6 228.4,126.4 228.6,143.2 228.9,130.0 229.1,136.6 229.4,124.9 229.6,131.7 229.9,126.3 230.1,142.4 230.4,123.2 230.6,143.5 230.9,123.1 231.1,144.1 231.4,131.8 231.6,145.3 231.9,124.4 232.1,139.8 232.4,126.7 232.7,140.3 233.0,122.5 233.4,140.8 233.7,130.3 234.1,147.6 234.4,122.8 234.8,148.6 235.1,123.5 235.5,142.7 235.8,125.8 236.2,144.6 236.5,124.1 236.9,149.0 237.2,128.0 237.5,146.9 237.9,132.8 238.2,138.9 238.6,120.9 238.9,140.0 239.2,125.3 239.5,148.7 239.8,124.1 240.1,144.1 240.4,124.0 240.7,149.5 241.0,122.2 241.4,140.0 241.7,131.7 242.0,142.2 242.3,131.9 242.6,148.3 242.9,124.2 243.2,140.0 243.5,133.3 243.7,142.5 244.0,125.0 244.3,147.3 244.6,126.9 244.9,145.4 245.1,122.2 245.4,146.9 245.7,130.8 246.0,145.2 246.2,122.5 246.5,146.7 246.8,125.9 247.1,137.0 247.3,125.0 247.6,139.8 247.9,125.5 248.2,144.6 248.4,123.3 248.7,143.8 249.0,124.3 249.2,137.3 249.5,132.0 249.8,140.8 250.0,124.9 250.3,142.8 250.6,125.9 250.8,143.6 251.1,126.0 251.4,146.5 251.6,127.1 251.9,146.2 252.1,125.8 252.4,145.4 252.7,127.6 252.9,138.9 253.2,135.8 253.4,148.7 253.7,132.9 253.9,143.6 254.2,134.8 254.4,147.8 254.7,137.3 255.0,149.8 255.2,133.4 255.5,149.6 255.7,127.9 256.0,149.5 256.2,133.1 256.5,149.3 256.7,129.5 257.1,150.6 257.4,135.8 257.7,141.2 258.1,130.3 258.4,149.3 258.8,139.1 259.1,149.3 259.4,132.6 259.8,146.6 260.1,130.4 260.5,146.0 260.8,138.2 261.1,147.1 261.5,135.8 261.8,152.3 262.2,133.2 262.5,144.8 262.8,136.1 263.2,144.4 263.5,133.6 263.8,152.0 264.2,139.7 264.5,149.2 264.8,137.0 265.2,146.9 265.5,131.6 265.8,153.3 266.2,136.1 266.5,149.2 266.8,135.5 267.2,142.9 267.5,132.3 267.8,144.3 268.2,131.3 268.5,150.3 268.8,137.3 269.0,149.3 269.3,136.8 269.6,151.3 269.9,136.2 270.1,151.1 270.4,132.9 270.7,150.6 270.9,138.0 271.2,153.1 271.5,136.8 271.7,152.8 272.0,136.2 272.3,150.5 272.6,134.2 272.8,149.7 273.1,135.5 273.4,150.5 273.6,136.0 273.9,153.0 274.3,133.2 274.6,150.7 274.9,138.2 275.2,155.2 275.5,136.3 275.8,150.0 276.1,134.2 276.4,148.1 276.8,131.8 277.1,152.4 277.3,133.7 277.4,147.5 277.6,131.7 277.8,153.1 278.0,131.0 278.1,152.5 278.3,138.3 278.5,150.2 278.7,129.4 278.8,147.3 279.0,137.4 279.2,146.9 279.4,134.8 279.5,139.9 279.7,127.9 279.9,147.9 280.1,129.6 280.2,146.8 280.4,128.8 280.7,143.6 281.0,134.4 281.3,142.6 281.7,129.5 282.0,145.9 282.3,132.0 282.7,140.8 283.0,131.7 283.4,141.9 283.7,126.3 284.0,142.3 284.4,132.2 284.7,145.4 285.0,133.7 285.4,145.5 285.7,130.8 286.0,140.2 286.3,128.0 286.6,146.3 286.9,136.1 287.2,150.0 287.5,136.2 287.8,148.1 288.1,133.5 288.4,144.1 288.7,134.9 289.1,146.5 289.4,135.2 289.7,144.7 290.0,135.2 290.3,146.9 290.6,133.4 290.9,144.9 291.1,140.4 291.4,150.7 291.6,140.5 291.9,149.6 292.2,135.9 292.4,152.4 292.7,139.8 293.0,152.3 293.2,140.9 293.5,146.9 293.8,136.5 294.0,147.3 294.3,137.3 294.6,152.3 294.8,142.2 295.1,153.8 295.3,139.2 295.6,156.5 295.9,145.3 296.1,148.2 296.4,137.9 296.7,151.3 296.9,140.5 297.2,157.4 297.5,141.7 297.7,149.0 298.0,144.4 298.3,155.4 298.6,139.1 298.9,156.5 299.1,142.4 299.4,152.6 299.7,146.3 300.0,152.8 300.2,145.9 300.5,158.6 300.8,144.2 301.1,152.4 301.4,142.6 301.6,156.3 301.9,149.6 302.2,160.6 302.5,140.8 302.8,155.6 303.0,142.2 303.3,157.8 303.6,143.5 303.9,159.5 304.1,144.0 304.4,158.3 304.7,149.8 305.0,161.8 305.3,147.0 305.6,159.1 305.9,144.8 306.2,161.3 306.4,143.8 306.7,159.4 307.0,146.6 307.3,156.6 307.6,152.0 307.9,159.3 308.2,150.2 308.5,161.7 308.7,151.0 309.0,166.9 309.3,148.8 309.6,162.4 309.9,144.9 310.2,166.7 310.5,146.3 310.8,167.4 311.0,147.6 311.3,162.1 311.6,147.1 311.9,158.7 312.2,148.2 312.5,163.6 312.8,153.2 313.0,164.6 313.3,153.1 313.5,168.7 313.7,149.1 314.0,168.4 314.2,155.5 314.5,165.9 314.7,158.4 315.0,169.7 315.2,159.3 315.5,167.2 315.7,157.8 316.0,172.0 316.2,150.0 316.5,167.4 316.7,150.9 317.0,166.3 317.2,152.8 317.5,167.9 317.7,156.0 318.0,171.9 318.2,157.6 318.5,168.2 318.7,155.3 318.9,174.9 319.2,152.2 319.4,170.8 319.7,160.0 320.0,167.7 320.3,161.3 320.5,167.0 320.8,160.9 321.1,176.0 321.4,163.5 321.6,175.8 321.9,161.2 322.2,171.8 322.5,159.7 322.7,174.4 323.0,160.3 323.3,171.0 323.6,159.4 323.8,179.4 324.1,168.1 324.4,171.1 324.7,160.6 324.9,174.5 325.2,164.8 325.4,181.2 325.7,164.2 325.9,181.4 326.1,161.6 326.3,172.1 326.6,166.1 326.8,173.4 327.0,163.8 327.3,181.8 327.5,170.5 327.7,173.6 327.9,171.5 328.2,178.0 328.4,169.4 328.6,184.8 328.9,163.2 329.1,185.6 329.3,165.4 329.5,184.8 329.8,165.2 330.0,180.2 330.2,166.3 330.5,180.9 330.7,168.2 330.9,186.3 331.1,171.9 331.4,180.5 331.6,166.0 331.8,184.2 332.0,173.7 332.3,183.3 332.5,172.5 332.7,189.2 333.0,170.9 333.2,189.7 333.4,171.6 333.6,190.5 333.9,168.1 334.1,187.6 334.3,169.5 334.5,185.7 334.8,177.6 335.0,189.4 335.2,179.4 335.5,188.7 335.8,172.4 336.1,191.9 336.4,170.0 336.7,186.5 337.0,170.7 337.3,190.0 337.6,173.6 337.9,189.9 338.2,172.1 338.5,188.2 338.8,183.1 339.0,192.4 339.3,175.6 339.6,192.4 339.9,181.1 340.2,188.6 340.5,175.7 340.8,194.1 341.1,175.5 341.4,193.4 341.7,176.2 342.0,188.8 342.3,178.3 342.7,190.4 343.0,176.2 343.3,191.8 343.6,176.4 344.0,192.5 344.3,174.8 344.6,193.6 344.9,182.8 345.3,191.9 345.6,178.2 345.9,186.3 346.2,176.5 346.5,194.4 346.8,173.5 347.0,187.3 347.2,180.3 347.5,194.1 347.7,172.7 348.0,187.8 348.2,183.1 348.5,195.3 348.7,177.2 349.0,196.1 349.2,182.6 349.5,194.0 349.7,177.0 350.0,193.4 350.2,181.1 350.5,189.2 350.8,178.6 351.1,194.0 351.4,182.8 351.7,196.0 352.1,179.0 352.4,198.0 352.7,183.5 353.0,196.5 353.3,183.2 353.7,198.1 354.0,180.6 354.3,197.1 354.6,180.3 354.9,196.2 355.3,182.9 355.6,193.3 355.9,182.1 356.2,194.9 356.5,183.2 356.7,191.3 356.8,185.2 357.0,199.2 357.2,183.8 357.4,199.2 357.6,188.0 357.7,201.0 357.9,183.5 358.1,201.7 358.3,187.0 358.5,197.5 358.6,185.6 358.8,196.4 359.0,182.8 359.2,201.2 359.4,190.0 359.5,202.7 359.7,193.3 359.9,206.6 360.1,185.6 360.3,206.2 360.4,189.1 360.6,208.7 360.8,191.7 361.0,205.3 361.2,194.6 361.3,205.5 361.5,187.0 361.8,207.8 362.1,190.1 362.4,206.3 362.7,188.8 363.0,206.6 363.3,190.5 363.6,205.1 363.9,194.9 364.2,203.6 364.5,188.3 364.8,201.3 365.1,191.5 365.4,206.3 365.7,193.3 366.0,200.6 366.3,186.1 366.7,199.8 367.0,191.9 367.3,206.5 367.6,191.2 367.9,206.3 368.2,188.2 368.5,198.8 368.8,193.7 369.1,208.1 369.5,193.2 369.8,204.3 370.1,188.1 370.4,201.3 370.7,188.0 371.0,206.5 371.4,191.2 371.7,199.6 372.0,191.7 372.4,208.1 372.7,194.0 373.0,201.7 373.4,196.9 373.7,202.1 374.0,193.6 374.4,209.4 374.7,198.4 375.0,206.8 375.4,193.5 375.7,206.8 376.0,192.4 376.2,208.6 376.5,196.8 376.7,211.0 377.0,193.6 377.2,207.5 377.5,190.4 377.7,210.7 378.0,199.4 378.2,212.5 378.5,195.1 378.7,208.6 379.0,199.5 379.2,205.9 379.5,199.6 379.7,209.1 380.0,199.1 380.2,212.5 380.5,196.2 380.9,208.4 381.2,198.2 381.5,210.8 381.8,202.1 382.2,210.6 382.5,195.9 382.8,212.5 383.1,196.9 383.4,211.5 383.8,195.0 384.1,206.8 384.4,195.7 384.8,209.1 385.1,200.2 385.5,204.3 385.8,192.8 386.2,205.6 386.5,194.0 386.9,208.4 387.2,201.7 387.6,212.5 387.9,195.8 388.2,208.9 388.6,194.5 388.9,211.1 389.3,198.1 389.6,211.2 390.0,195.5 390.3,207.0 390.7,195.6 391.0,212.5 391.4,195.7 391.7,212.2 392.0,193.5 392.4,212.5 392.7,197.9 393.1,211.2 393.4,195.6 393.7,211.5 394.1,203.1 394.4,206.5 394.8,200.6 395.1,212.5 395.4,201.3 395.8,209.6 396.1,196.3 396.5,207.9 396.8,201.1 397.1,209.4 397.5,204.4 397.8,212.5 398.1,201.0 398.5,211.1 398.8,201.0 399.2,207.9 399.5,196.8 399.8,208.9 400.2,201.9 400.5,212.5 400.8,201.5 401.2,212.5 401.5,201.9 401.9,212.5 402.2,202.1 402.5,212.5 402.9,206.7 403.2,207.9 403.6,199.7 403.9,212.5 404.3,196.0 404.6,212.5 405.0,199.4 405.3,212.5 405.7,197.7 406.0,212.5 406.4,195.1 406.7,212.5 407.1,200.2 407.4,212.5 407.8,203.4 408.1,209.9 408.5,196.6 408.8,208.3 409.2,196.1 409.5,212.5 409.9,203.7 410.2,212.5 410.5,202.0 410.9,211.7 411.2,195.6 411.6,212.5 411.9,197.8 412.3,212.5 412.6,196.0 412.9,212.5 413.2,195.6 413.4,212.5 413.7,204.8 414.0,212.5 414.3,196.3 414.6,212.5 414.9,197.7 415.1,206.1 415.4,199.1 415.7,206.8 415.7,203.2 415.8,205.2 415.8,202.8 415.9,205.4 415.9,202.7 416.0,204.3 416.0,202.3 416.1,203.4 416.1,201.0 416.2,202.5 416.2,200.4 416.3,202.2 416.3,199.8 416.4,200.9 416.4,198.4 416.5,200.2 416.5,198.3 416.6,199.3 416.6,196.7 416.7,198.3 416.7,197.4 416.8,198.7 416.8,195.3 416.9,197.8 416.9,195.0 416.9,197.4 417.0,194.5 417.0,195.2 417.0,193.7 417.0,195.5 417.0,192.9 417.1,195.3 417.1,193.0 417.1,194.5 417.1,191.6 417.1,193.6 417.2,191.0 417.2,192.3 417.2,190.5 417.2,191.6 417.3,189.6 417.3,191.3 417.3,188.4 417.3,190.0 417.3,188.1 417.4,190.0 417.4,186.9 417.4,189.5 417.4,186.4 417.4,188.8 417.5,185.9 417.5,188.4 417.5,184.6 417.5,187.4 417.5,185.2 417.6,186.4 417.6,184.1 417.6,185.2 417.6,183.4 417.7,185.5 417.7,182.7 417.7,184.3 417.7,181.9 417.7,183.1 417.8,180.9 417.8,182.9 417.8,179.7 417.8,182.4 417.8,179.1 417.9,181.9 417.9,179.0 417.9,179.8 417.9,178.8 418.0,179.4 418.0,177.3 418.0,178.8 418.0,176.7 418.1,178.4 418.1,176.3 418.1,178.3 418.1,175.8 418.2,176.8 418.2,175.0 418.2,177.4 418.2,173.8 418.3,175.7 418.3,173.9 418.3,174.5 418.3,172.8 418.4,174.9 418.4,171.9 418.4,174.5 418.4,170.4 418.5,173.4 418.5,170.7 418.5,173.0 418.5,170.6 418.6,172.2 418.6,168.5 418.6,171.6 418.6,169.1 418.7,170.6 418.7,167.2 418.7,169.7 418.7,166.4 418.8,168.5 418.8,166.2 418.8,168.5 418.8,165.1 418.9,167.6 418.9,165.3 418.9,167.3 418.9,164.9 419.0,166.1 419.0,163.5 419.0,166.1 419.0,162.9 419.1,165.0 419.1,161.8 419.1,164.4 419.1,160.7 419.1,163.5 419.2,160.5 419.2,161.7 419.2,160.5 419.2,161.7 419.2,159.8 419.2,161.5 419.3,159.1 419.3,160.8 419.3,157.3 419.3,159.1 419.3,157.6 419.3,159.3 419.4,157.4 419.4,157.9 419.4,155.6 419.4,157.8 419.4,154.5 419.4,157.3 419.5,153.9 419.5,156.2 419.5,153.9 419.5,156.2 419.5,152.9 419.5,155.6 419.6,152.7 419.6,153.6 419.6,151.3 419.6,153.0 419.6,151.8 419.7,152.8 419.7,149.9 419.7,152.1 419.7,149.1 419.7,151.6 419.7,149.1 419.8,151.0 419.8,147.9 419.8,149.5 419.8,147.2 419.8,148.9 419.8,146.0 419.9,148.9 419.9,146.5 419.9,147.1 419.9,145.8 419.9,147.1 420.0,144.4 420.0,147.0 420.0,143.5 420.0,145.9 420.1,143.0 420.1,145.4 420.1,142.8 420.1,144.1 420.2,142.0 420.2,144.2 420.2,141.8 420.2,143.3 420.3,141.5 420.3,141.9 420.3,139.5 420.3,142.3 420.4,138.7 420.4,141.4 420.4,138.8 420.4,141.1 420.5,137.5 420.5,140.1 420.5,136.5 420.5,138.5 420.6,135.7 420.6,137.5 420.6,135.4 420.6,137.2 420.7,135.7 420.7,137.0 420.7,134.7 420.7,136.6 420.8,133.5 420.8,135.1 420.8,133.9 420.8,135.0 420.9,131.9 420.9,134.5 420.9,131.6 420.9,133.9 421.0,131.7 421.0,133.3 421.0,129.6 421.0,131.2 421.1,128.8 421.1,130.5 421.1,128.2 421.2,130.1 421.2,127.6 421.3,130.4 421.3,127.9 421.3,128.9 421.4,126.1 421.4,128.4 421.5,126.5 421.5,127.0 421.5,125.9 421.6,126.3 421.6,124.8 421.7,126.6 421.7,123.9 421.8,124.9 421.8,123.4 421.8,124.9 421.9,122.6 421.9,124.4 422.0,121.6 422.0,123.8 422.0,121.1 422.1,121.9 422.1,120.1 422.2,122.5 422.2,119.4 422.3,121.3 422.3,118.5 422.3,120.1 422.4,118.0 422.4,120.2 422.5,117.4 422.5,118.6 422.6,116.4 422.6,117.8 422.6,116.7 422.7,118.0 422.7,115.4 422.8,116.8 422.8,115.1 422.9,117.1 422.9,114.3 423.0,115.9 423.0,114.1 423.0,115.5 423.1,112.0 423.1,115.3 423.2,112.1 423.2,114.2 423.3,109.8 423.3,115.5 423.3,108.4 423.4,112.8 423.4,110.2 423.5,112.8 423.5,106.9 423.6,112.1 423.6,104.4 423.7,111.7 423.8,107.2 423.8,113.1 423.9,102.0 423.9,110.3 424.0,103.9 424.0,110.2 424.1,106.1 424.1,111.9 424.2,104.9 424.3,111.2 424.3,98.7 424.4,110.5 424.4,103.5 424.5,105.6 424.5,97.0 424.6,109.8 424.6,102.6 424.7,103.6 424.8,92.5 424.8,107.6 424.9,91.3 424.9,105.7 425.0,95.5 425.0,112.3 425.1,95.7 425.1,107.3 425.2,90.4 425.3,110.0 425.3,92.0 425.4,108.7 425.4,92.9 425.5,108.4 425.6,96.6 425.7,102.0 425.7,94.7 425.8,99.8 425.9,84.5 426.0,103.7 426.0,83.6 426.1,106.5 426.2,90.6 426.3,104.2 426.4,81.8 426.4,99.5 426.5,91.2 426.6,100.4 426.7,83.5 426.7,102.4 426.8,82.8 426.9,97.6 427.0,87.5 427.1,97.4 427.1,82.1 427.2,95.0 427.3,83.4 427.4,101.7 427.5,81.1 427.6,92.4 427.8,78.6 428.0,94.6 428.1,80.0 428.3,94.1 428.4,84.6 428.6,96.6 428.7,77.7 428.9,98.1 429.1,86.2 429.2,94.0 429.4,78.3 429.5,92.1 429.7,74.4 429.8,89.5 430.0,77.2 430.2,87.4 430.3,74.4 430.5,90.5 430.6,81.6 430.8,87.7 430.9,75.0 431.1,90.2 431.2,79.1 431.4,90.6 431.6,68.7 431.7,87.2 431.9,78.3 432.0,84.5 432.2,66.7 432.4,88.8 432.5,74.9 432.7,83.9 432.9,63.3 433.1,89.6 433.3,64.5 433.5,82.3 433.7,59.6 433.9,83.7 434.1,67.9 434.3,82.9 434.5,58.8 434.7,87.6 434.8,63.5 435.0,84.4 435.2,60.2 435.4,84.1 435.6,64.1 435.8,79.0 436.0,58.1 436.2,76.8 436.4,55.7 436.6,87.8 436.8,60.8 436.9,77.5 437.1,65.8 437.3,76.2 437.5,58.6 437.7,79.2 437.9,53.4 438.1,78.5 438.3,62.1 438.5,81.5 438.7,53.2" fill="none" stroke="#cbcbcb" stroke-width="0.6"/><path d="M69.4,48.3 70.0,40.7 70.7,44.8 71.3,35.5 72.1,43.2 73.0,37.6 73.6,37.6 73.7,37.5 73.7,47.1 73.8,38.6 73.9,45.8 73.9,32.8 74.0,49.0 74.0,43.9 74.1,48.7 74.2,46.8 74.2,49.8 74.3,47.5 74.3,50.7 74.3,43.8 74.4,59.4 74.4,49.8 74.4,59.2 74.5,50.9 74.5,61.9 74.5,48.0 74.5,63.3 74.6,59.7 74.6,66.5 74.6,56.8 74.6,69.6 74.7,59.5 74.7,67.6 74.7,67.0 74.8,70.7 74.8,64.2 74.8,75.2 74.8,65.7 74.9,76.4 74.9,68.7 74.9,75.9 75.0,73.1 75.0,79.4 75.0,78.0 75.0,86.5 75.1,79.9 75.1,88.2 75.1,75.7 75.2,84.6 75.2,82.2 75.2,86.9 75.3,82.2 75.3,88.1 75.4,86.0 75.4,95.2 75.5,88.2 75.5,96.1 75.5,90.5 75.6,98.5 75.6,87.9 75.7,101.5 75.7,89.3 75.7,105.2 75.8,95.9 75.8,103.7 75.8,95.9 75.9,108.2 75.9,102.2 75.9,109.9 76.0,103.7 76.0,115.4 76.0,107.4 76.1,112.4 76.1,103.6 76.2,114.7 76.2,111.9 76.2,115.3 76.3,110.7 76.3,119.7 76.3,116.3 76.4,119.8 76.4,117.4 76.4,124.7 76.5,119.0 76.5,123.3 76.6,121.5 76.6,129.1 76.6,125.1 76.7,130.4 76.7,125.2 76.8,130.2 76.8,130.0 76.8,132.4 76.9,132.0 76.9,135.6 77.0,133.7 77.0,136.4 77.0,135.7 77.1,138.7 77.1,137.9 77.2,141.5 77.2,141.8 77.3,143.0 77.5,143.9 77.6,145.2 77.8,144.2 77.9,148.5 78.0,148.1 78.2,149.6 78.3,149.6 78.5,152.4 78.8,152.5 79.1,154.3 79.5,153.1 79.8,155.9 80.2,154.7 80.7,161.8 81.4,154.1 82.4,159.7 83.4,154.8 84.3,165.3 85.3,160.6 86.3,162.0 87.2,160.0 88.0,165.3 88.8,159.6 89.5,168.5 90.3,161.5 91.1,167.0 91.9,160.0 92.6,174.4 93.4,167.0 94.2,176.2 95.0,164.7 95.9,172.2 96.8,165.8 97.6,176.4 98.5,169.0 99.4,175.1 100.2,173.6 100.9,182.2 101.6,169.7 102.3,180.1 103.0,173.5 103.7,184.3 104.5,178.7 105.2,180.8 105.9,180.2 106.5,189.8 107.1,179.8 107.7,185.7 108.3,179.2 109.0,188.5 109.6,183.0 110.2,194.7 110.8,185.2 111.1,188.3 111.4,184.5 111.7,186.3 111.9,182.8 112.2,183.2 112.5,180.2 112.7,180.9 113.0,177.9 113.2,180.0 113.4,175.2 113.6,176.0 113.8,173.6 114.0,174.4 114.3,171.8 114.4,171.7 114.5,168.6 114.5,171.0 114.6,166.5 114.7,167.4 114.8,165.6 114.9,165.9 115.0,163.1 115.0,164.5 115.1,160.7 115.2,162.3 115.3,159.5 115.4,158.8 115.5,157.2 115.6,157.9 115.6,153.6 115.7,155.2 115.8,152.7 115.9,153.3 116.0,149.7 116.1,151.0 116.1,147.9 116.2,148.6 116.3,144.5 116.4,147.2 116.5,142.5 116.6,143.1 116.6,140.7 116.7,141.1 116.8,139.5 117.0,139.6 117.1,136.0 117.2,138.4 117.3,134.8 117.5,136.2 117.6,132.4 117.7,132.2 117.9,129.5 118.0,130.8 118.1,128.5 118.3,128.0 118.4,125.7 118.5,127.0 118.6,122.3 118.8,125.3 118.9,120.9 119.0,122.5 119.2,119.9 119.3,121.2 119.5,117.4 119.8,118.6 120.0,111.4 120.3,118.1 120.6,112.6 120.8,117.2 121.1,109.5 121.3,116.4 121.6,107.3 121.8,113.1 122.3,105.0 123.0,106.8 123.6,105.6 124.3,105.9 125.0,97.0 125.8,106.6 126.9,97.6 128.0,106.4 129.1,97.9 130.2,110.5 131.2,96.4 132.3,109.3 133.3,101.8 134.4,107.0 135.4,102.2 136.4,111.2 137.5,96.3 138.5,108.6 139.5,101.4 140.4,103.6 141.4,100.3 142.3,105.6 143.2,99.9 144.1,104.4 145.0,101.1 145.9,108.4 146.8,99.2 147.7,106.8 148.6,99.2 149.6,105.2 150.6,93.5 151.7,111.4 152.6,96.1 153.1,106.9 153.7,98.4 154.2,110.9 154.8,105.9 155.3,117.6 155.9,107.0 156.4,114.3 156.9,101.2 157.4,117.9 158.0,103.5 158.5,122.8 159.0,111.2 159.6,119.0 160.2,111.4 160.9,124.8 161.7,116.4 162.5,124.0 163.2,119.5 164.0,121.6 164.8,120.9 165.6,124.0 166.5,121.1 167.6,130.9 168.7,119.8 169.8,122.6 170.9,121.1 172.0,131.7 173.1,119.1 174.2,130.0 175.3,119.7 176.3,124.3 177.4,113.6 178.5,124.2 179.6,112.2 180.6,130.2 181.5,122.7 182.4,132.2 183.3,118.9 184.3,129.1 185.2,119.0 186.2,126.6 187.3,120.6 188.4,140.1 189.4,126.8 190.5,136.2 191.5,123.1 192.5,139.4 193.5,126.7 194.5,128.9 195.5,129.2 196.5,134.3 197.5,129.1 198.5,137.2 199.6,127.5 200.7,133.7 201.8,123.1 202.9,131.6 203.8,131.6 204.8,134.1 205.7,131.5 206.6,135.7 207.6,130.5 208.5,132.2 209.4,129.5 210.4,137.7 211.4,131.1 212.4,133.1 213.4,130.0 214.4,140.4 215.4,130.5 216.5,137.1 217.5,131.0 218.5,135.3 219.5,123.7 220.5,141.5 221.5,124.9 222.6,133.9 223.7,129.3 224.8,133.3 225.9,128.9 227.0,133.1 228.1,130.3 228.9,137.7 229.7,127.2 230.5,140.9 231.3,132.8 232.1,136.7 233.0,130.7 234.1,135.4 235.2,128.0 236.3,145.1 237.3,131.8 238.4,135.9 239.4,134.2 240.4,135.3 241.4,128.5 242.3,142.5 243.3,129.4 244.1,138.9 245.0,126.4 245.9,141.9 246.8,132.2 247.6,134.8 248.5,130.3 249.3,136.5 250.1,130.8 251.0,139.1 251.8,135.8 252.6,141.9 253.4,135.6 254.2,141.7 255.0,138.3 255.8,146.7 256.6,140.0 257.6,142.4 258.7,140.8 259.8,143.9 260.8,135.0 261.9,141.8 263.0,137.0 264.0,142.4 265.1,139.3 266.1,141.5 267.2,137.6 268.2,145.3 269.1,135.0 270.0,142.1 270.8,140.1 271.7,144.6 272.5,141.2 273.4,147.2 274.3,143.5 275.3,149.0 276.3,135.9 277.2,144.5 277.7,139.4 278.3,147.4 278.8,134.5 279.4,143.9 279.9,132.5 280.5,137.7 281.5,132.3 282.6,139.0 283.6,132.7 284.7,141.3 285.7,130.3 286.7,144.7 287.7,139.5 288.6,140.4 289.6,132.5 290.5,142.2 291.4,137.7 292.2,143.1 293.0,141.8 293.9,148.5 294.7,144.7 295.5,147.5 296.4,145.2 297.2,150.0 298.1,143.7 298.9,149.3 299.8,148.4 300.7,150.2 301.6,149.9 302.4,156.4 303.3,148.3 304.2,155.6 305.1,152.7 306.0,153.7 306.9,148.6 307.8,161.3 308.7,151.2 309.6,157.7 310.5,154.7 311.4,157.6 312.3,157.1 313.1,166.2 313.9,152.4 314.7,163.3 315.5,156.4 316.3,169.7 317.0,154.3 317.8,168.3 318.6,159.1 319.4,171.2 320.2,163.5 321.1,169.8 322.0,158.2 322.8,172.6 323.7,160.2 324.5,170.4 325.4,161.5 326.1,172.9 326.8,170.9 327.5,179.8 328.2,167.1 329.0,174.5 329.7,172.5 330.4,182.7 331.1,173.6 331.8,182.4 332.5,173.9 333.2,183.8 334.0,177.6 334.7,183.6 335.4,179.6 336.3,189.8 337.3,181.5 338.2,191.9 339.1,181.5 340.1,186.2 341.0,178.6 341.9,190.4 342.9,183.6 344.0,194.0 345.0,176.6 346.0,192.3 346.9,176.4 347.6,190.6 348.4,176.8 349.2,195.6 350.0,179.3 350.8,195.6 351.8,183.3 352.8,192.6 353.8,182.5 354.8,193.6 355.9,184.1 356.7,191.6 357.2,189.5 357.8,193.9 358.4,188.1 358.9,201.1 359.5,194.9 360.1,203.0 360.6,192.1 361.2,202.7 361.9,191.8 362.9,198.9 363.8,189.9 364.7,198.1 365.7,191.7 366.7,200.4 367.6,197.0 368.6,205.1 369.6,197.1 370.6,200.1 371.6,196.6 372.6,199.8 373.7,197.5 374.7,206.5 375.8,200.5 376.6,203.3 377.4,201.3 378.2,206.0 378.9,200.8 379.7,211.4 380.6,202.7 381.6,208.4 382.6,197.1 383.6,207.5 384.7,200.9 385.8,209.0 386.9,199.5 387.9,207.0 389.0,198.5 390.1,210.4 391.2,202.8 392.3,206.4 393.4,197.5 394.4,209.3 395.5,201.2 396.5,210.3 397.6,205.0 398.7,211.5 399.7,199.0 400.8,209.8 401.9,204.6 402.9,212.5 404.0,202.1 405.1,211.9 406.2,205.1 407.3,212.5 408.4,199.2 409.5,207.9 410.6,206.6 411.7,212.5 412.7,203.4 413.6,206.6 414.5,202.5 415.4,205.0 415.8,201.7 416.0,203.9 416.1,200.6 416.3,201.9 416.4,198.9 416.6,199.2 416.7,197.6 416.9,197.7 417.0,195.3 417.0,195.2 417.1,192.5 417.2,192.5 417.2,190.7 417.3,191.0 417.4,188.7 417.4,187.7 417.5,186.5 417.6,186.5 417.6,183.9 417.7,183.7 417.8,181.8 417.8,182.4 417.9,180.0 418.0,180.1 418.0,177.1 418.1,177.7 418.2,175.6 418.3,175.5 418.4,172.7 418.4,173.0 418.5,171.0 418.6,171.1 418.7,168.2 418.8,168.4 418.8,166.0 418.9,166.0 419.0,163.5 419.1,164.4 419.1,161.7 419.2,161.5 419.2,160.0 419.3,160.2 419.3,157.1 419.4,157.1 419.5,155.6 419.5,155.4 419.6,153.6 419.6,153.6 419.7,150.9 419.7,151.8 419.8,147.9 419.8,148.8 419.9,146.3 419.9,146.4 420.0,143.8 420.1,144.1 420.2,142.6 420.3,143.0 420.3,140.1 420.4,140.1 420.5,138.3 420.6,138.6 420.7,135.8 420.7,135.7 420.8,132.9 420.9,134.3 421.0,131.5 421.1,130.9 421.2,128.6 421.3,128.8 421.4,127.2 421.6,127.0 421.7,124.1 421.8,124.9 421.9,122.9 422.1,122.9 422.2,120.3 422.3,119.8 422.5,117.8 422.6,117.7 422.8,116.1 422.9,115.7 423.0,113.1 423.2,113.5 423.3,109.0 423.4,113.2 423.6,107.8 423.8,108.9 424.0,107.6 424.1,109.0 424.3,100.2 424.5,104.8 424.7,98.6 424.8,102.5 425.0,96.8 425.2,104.3 425.3,94.8 425.6,98.2 425.8,91.2 426.1,99.1 426.3,84.2 426.5,95.4 426.8,83.5 427.0,92.5 427.3,89.9 427.6,93.9 428.1,85.2 428.6,94.4 429.1,86.0 429.6,86.4 430.1,73.7 430.6,84.0 431.1,78.1 431.6,85.7 432.1,69.7 432.6,90.1 433.2,78.6 433.8,83.5 434.4,64.4 435.0,86.9 435.6,74.5 436.2,75.2 436.8,72.5 437.4,78.5 438.0,56.2 438.6,75.4" fill="none" stroke="#b4b4b4" stroke-width="0.6"/><path d="M69.4,41.9 C69.6,41.6 71.0,39.5 71.5,39.0 C72.0,38.5 73.3,36.0 73.6,37.2 C73.9,38.4 74.2,46.4 74.3,50.0 C74.4,53.6 74.7,66.1 74.8,70.0 C74.9,73.9 75.1,82.2 75.2,85.0 C75.3,87.8 75.5,91.1 75.6,95.0 C75.7,98.9 76.2,114.8 76.4,120.0 C76.6,125.2 77.0,138.4 77.2,142.0 C77.4,145.6 78.2,150.3 78.5,152.0 C78.8,153.7 80.0,156.5 80.3,157.2 C80.6,157.9 80.2,157.9 81.0,158.4 C81.8,158.9 85.8,160.7 87.3,161.9 C88.8,163.1 92.9,167.7 94.3,169.0 C95.7,170.3 98.9,172.3 100.2,173.6 C101.5,174.9 104.9,179.1 106.1,180.7 C107.3,182.3 110.1,187.7 110.8,187.7 C111.5,187.7 112.2,182.7 112.6,181.0 C113.0,179.3 114.0,175.2 114.3,172.5 C114.6,169.8 115.2,160.6 115.5,157.0 C115.8,153.4 116.4,144.2 116.8,140.0 C117.2,135.8 118.7,122.6 119.3,119.0 C119.9,115.4 121.2,109.7 121.9,108.0 C122.6,106.3 124.6,103.9 125.3,103.4 C126.0,102.9 127.8,103.3 128.6,103.4 C129.4,103.5 131.8,104.7 132.9,104.6 C134.0,104.5 137.7,102.5 138.8,102.5 C139.9,102.5 142.0,105.1 143.0,105.0 C144.0,104.9 147.1,101.4 148.1,101.2 C149.1,101.0 151.5,102.1 152.4,102.9 C153.3,103.7 155.0,107.3 155.8,108.8 C156.6,110.3 158.9,114.9 160.0,116.4 C161.1,117.9 164.3,121.8 165.9,122.4 C167.5,123.0 172.8,121.5 174.4,121.5 C176.0,121.5 178.8,121.7 180.0,122.2 C181.2,122.7 183.8,125.0 185.1,125.6 C186.4,126.2 190.4,127.0 191.9,127.6 C193.4,128.2 197.4,130.3 198.6,130.7 C199.8,131.1 202.0,130.7 202.9,131.0 C203.8,131.3 205.5,133.2 206.3,133.2 C207.1,133.2 209.4,130.7 210.5,130.7 C211.6,130.7 215.1,133.2 216.4,133.2 C217.7,133.2 221.1,131.0 222.4,130.7 C223.7,130.4 227.2,129.9 228.3,130.3 C229.4,130.7 231.4,134.0 232.5,134.4 C233.6,134.8 237.3,133.5 238.5,133.7 C239.7,133.9 242.0,136.2 243.0,136.1 C244.0,136.0 246.8,132.4 247.8,132.4 C248.8,132.4 251.0,135.1 252.0,136.0 C253.0,136.9 255.5,139.8 256.8,140.5 C258.1,141.2 262.3,142.2 263.6,142.2 C264.9,142.2 267.5,140.2 268.6,140.5 C269.7,140.8 272.8,144.4 273.7,144.7 C274.6,145.0 276.3,143.8 277.1,143.0 C277.9,142.2 279.6,137.6 280.5,137.1 C281.4,136.6 284.5,138.0 285.6,138.5 C286.7,139.0 289.4,140.4 290.7,141.4 C292.0,142.4 296.0,146.1 297.5,147.3 C299.0,148.5 302.5,151.2 304.2,152.4 C305.9,153.6 311.0,156.9 312.7,158.3 C314.4,159.7 318.1,163.9 319.5,165.1 C320.9,166.3 323.9,168.4 325.1,169.5 C326.3,170.6 329.1,174.1 330.2,175.4 C331.3,176.7 334.0,180.3 335.3,181.4 C336.6,182.5 340.8,185.3 342.0,185.6 C343.2,185.9 345.4,183.6 346.3,183.9 C347.2,184.2 349.4,187.3 350.5,188.1 C351.6,188.9 355.2,189.5 356.4,190.7 C357.6,191.9 360.5,198.5 361.5,199.2 C362.5,199.9 364.8,196.6 365.8,196.6 C366.8,196.6 369.7,198.7 370.8,199.2 C371.9,199.7 374.9,200.1 375.9,200.8 C376.9,201.5 379.3,204.8 380.2,205.1 C381.1,205.4 383.2,203.5 384.4,203.4 C385.6,203.3 389.8,204.0 391.2,204.2 C392.6,204.4 395.3,205.3 396.6,205.6 C397.9,205.9 401.2,207.0 402.5,207.2 C403.8,207.4 407.2,207.7 408.3,207.7 C409.4,207.7 411.6,207.5 412.4,207.2 C413.2,206.9 415.2,206.0 415.7,204.8 C416.2,203.6 416.7,199.2 416.9,196.4 C417.1,193.6 417.7,183.5 417.9,179.8 C418.1,176.1 418.9,166.9 419.1,163.2 C419.3,159.5 419.7,150.3 419.9,146.6 C420.1,142.9 420.8,133.0 421.1,130.0 C421.4,127.0 422.0,122.2 422.3,120.0 C422.6,117.8 423.2,112.9 423.5,110.5 C423.8,108.1 425.0,101.0 425.4,98.7 C425.8,96.4 426.6,92.0 427.4,89.9 C428.2,87.8 431.0,82.3 432.3,80.1 C433.6,77.9 438.0,71.4 438.7,70.3" fill="none" stroke="#4e4e4e" stroke-width="1.25" stroke-linejoin="round"/><rect x="51" y="23" width="412" height="190.6" fill="none" stroke="#8c8c8c" stroke-width="1.6"/><path d="M48,213.6 H51 M48,186.3 H51 M48,159.1 H51 M48,131.8 H51 M48,104.6 H51 M48,77.3 H51 M48,50.1 H51 M48,22.8 H51 M51.0,213.6 V216.8 M133.4,213.6 V216.8 M215.8,213.6 V216.8 M298.2,213.6 V216.8 M380.6,213.6 V216.8 M463.0,213.6 V216.8 " stroke="#8c8c8c" stroke-width="1.2" fill="none"/><g font-family="Liberation Sans" font-size="9" fill="#2a2a2a" stroke="#2a2a2a" stroke-width="0.2"><text transform="translate(44.2,215.9) scale(0.87,1)" text-anchor="end">0</text><text transform="translate(44.2,188.6) scale(0.87,1)" text-anchor="end">20</text><text transform="translate(44.2,161.4) scale(0.87,1)" text-anchor="end">40</text><text transform="translate(44.2,134.1) scale(0.87,1)" text-anchor="end">60</text><text transform="translate(44.2,106.9) scale(0.87,1)" text-anchor="end">80</text><text transform="translate(44.2,79.6) scale(0.87,1)" text-anchor="end">100</text><text transform="translate(44.2,52.4) scale(0.87,1)" text-anchor="end">120</text><text transform="translate(44.2,25.1) scale(0.87,1)" text-anchor="end">140</text><text transform="translate(51.0,227.8) scale(0.87,1)" text-anchor="middle">0</text><text transform="translate(133.4,227.8) scale(0.87,1)" text-anchor="middle">20</text><text transform="translate(215.8,227.8) scale(0.87,1)" text-anchor="middle">40</text><text transform="translate(298.2,227.8) scale(0.87,1)" text-anchor="middle">60</text><text transform="translate(380.6,227.8) scale(0.87,1)" text-anchor="middle">80</text><text transform="translate(463.0,227.8) scale(0.87,1)" text-anchor="middle">100</text></g><path d="M65.2,424.4 65.6,412.2 66.1,418.8 66.5,405.2 67.0,421.0 67.4,402.1 67.9,424.6 68.3,401.4 68.8,413.8 69.2,410.8 69.6,417.7 70.0,414.2 70.4,414.5 70.8,405.4 71.2,427.7 71.6,406.9 71.9,417.1 72.1,409.0 72.4,417.7 72.6,409.4 72.9,418.2 73.1,409.4 73.4,429.5 73.6,406.5 73.8,428.7 73.9,408.2 74.1,426.2 74.3,415.2 74.5,431.9 74.6,420.4 74.8,423.3 75.0,416.0 75.2,425.4 75.3,413.4 75.5,423.4 75.7,423.0 75.9,423.8 76.0,411.7 76.3,424.7 76.5,423.8 76.8,427.4 77.1,419.8 77.3,434.2 77.6,426.0 77.9,437.9 78.2,419.1 78.4,428.9 78.7,426.9 79.0,433.3 79.2,423.1 79.5,429.9 79.8,428.4 80.1,437.8 80.3,423.2 80.6,439.3 80.9,429.6 81.2,438.4 81.4,431.0 81.7,431.5 82.0,431.2 82.3,440.4 82.6,428.5 82.8,438.2 83.1,428.3 83.4,439.7 83.7,432.2 84.0,441.9 84.2,434.6 84.5,437.4 84.8,435.3 85.1,436.0 85.4,425.5 85.7,442.0 85.9,428.4 86.2,442.7 86.5,432.9 86.8,446.7 87.1,432.9 87.4,442.7 87.6,434.4 87.9,444.1 88.2,437.7 88.5,446.7 88.8,437.7 89.1,446.9 89.4,437.8 89.7,448.9 90.0,435.6 90.2,442.0 90.5,434.2 90.8,454.4 91.1,441.2 91.4,451.3 91.7,434.3 92.0,448.1 92.3,444.0 92.6,452.8 92.9,435.8 93.2,447.1 93.5,444.9 93.8,455.0 94.1,442.6 94.4,446.7 94.7,446.4 95.0,448.2 95.3,443.2 95.7,452.9 96.0,444.6 96.3,450.5 96.7,446.8 97.0,452.8 97.3,445.7 97.7,454.0 98.0,444.6 98.4,462.0 98.7,444.8 99.0,454.3 99.4,441.8 99.7,451.8 100.1,442.4 100.5,455.1 101.0,449.0 101.4,460.5 101.9,447.6 102.3,460.0 102.8,449.9 103.2,455.9 103.7,446.8 104.1,452.3 104.4,445.7 104.4,451.1 104.5,450.0 104.6,450.7 104.7,444.2 104.8,451.2 104.9,448.5 105.0,448.5 105.1,445.1 105.2,447.2 105.3,446.0 105.3,446.7 105.4,443.1 105.5,445.6 105.6,444.2 105.7,445.7 105.8,440.4 105.9,444.5 106.0,443.1 106.1,443.6 106.1,441.7 106.2,443.2 106.3,441.3 106.4,441.8 106.5,438.8 106.6,440.8 106.7,436.4 106.8,439.8 106.9,435.9 107.0,438.9 107.0,437.2 107.1,439.4 107.2,435.8 107.3,439.8 107.4,433.2 107.4,436.1 107.5,434.8 107.6,436.4 107.7,432.0 107.8,434.0 107.9,430.5 107.9,433.6 108.0,432.5 108.1,432.5 108.2,429.3 108.3,431.6 108.4,430.7 108.4,431.8 108.5,426.9 108.6,429.9 108.7,428.0 108.8,429.3 108.8,424.9 108.9,430.5 109.0,426.3 109.1,430.3 109.2,426.1 109.3,426.8 109.3,424.2 109.4,427.4 109.5,422.6 109.6,424.9 109.7,420.5 109.8,426.8 109.8,420.1 109.9,423.3 110.0,419.5 110.1,421.9 110.2,420.9 110.3,420.7 110.3,417.7 110.4,423.2 110.5,418.9 110.6,420.9 110.7,418.1 110.8,420.3 110.9,417.4 110.9,418.2 111.0,414.3 111.1,419.7 111.2,414.0 111.3,417.2 111.4,414.1 111.4,414.6 111.5,411.4 111.6,413.6 111.7,410.8 111.8,413.2 111.9,412.2 112.0,411.9 112.0,410.2 112.1,411.4 112.2,410.4 112.3,410.5 112.3,407.2 112.4,411.2 112.4,407.8 112.5,408.9 112.5,404.0 112.6,408.5 112.6,405.0 112.7,409.1 112.7,404.9 112.8,407.1 112.8,404.3 112.9,407.3 112.9,402.0 113.0,404.6 113.0,400.7 113.1,403.2 113.1,401.9 113.2,403.8 113.2,401.5 113.3,404.3 113.3,400.6 113.4,403.4 113.4,399.4 113.5,402.4 113.6,398.4 113.7,401.0 113.7,396.8 113.8,398.4 113.9,395.8 114.0,400.5 114.1,393.0 114.1,396.2 114.2,395.0 114.3,398.2 114.4,394.3 114.4,394.0 114.5,391.8 114.6,393.3 114.7,392.7 114.9,393.9 115.1,391.8 115.2,391.7 115.4,388.9 115.6,393.9 115.7,389.3 115.9,390.7 116.1,389.3 116.2,390.0 116.4,388.3 116.6,389.4 116.7,387.6 116.9,387.7 117.1,383.5 117.2,387.0 117.4,383.1 117.6,387.6 117.7,385.1 117.9,385.7 118.1,383.0 118.2,385.1 118.4,383.2 118.6,383.7 118.8,378.8 119.0,384.6 119.2,380.3 119.4,383.1 119.6,378.8 119.8,382.9 120.0,376.4 120.2,387.4 120.5,379.5 120.7,383.4 121.0,378.7 121.3,378.6 121.6,364.8 121.9,382.4 122.2,373.2 122.5,384.3 122.7,372.0 123.0,385.0 123.3,364.3 123.6,386.1 123.9,375.2 124.2,377.0 124.5,373.9 124.9,380.5 125.4,367.9 125.8,376.1 126.3,373.9 126.7,377.5 127.1,373.9 127.6,380.7 128.0,370.0 128.5,374.1 128.9,365.0 129.3,375.0 129.8,369.9 130.2,380.0 130.7,371.8 131.1,375.1 131.5,369.4 132.0,380.8 132.4,363.1 132.8,374.8 133.1,371.0 133.5,379.5 133.9,373.3 134.3,373.4 134.7,361.0 135.1,374.6 135.5,361.4 135.9,380.0 136.3,364.4 136.6,383.0 136.9,371.8 137.2,375.9 137.5,372.4 137.9,374.3 138.2,372.6 138.5,375.9 138.8,374.0 139.1,378.4 139.4,363.4 139.7,378.8 140.0,375.5 140.2,376.8 140.5,367.7 140.7,378.6 140.9,377.5 141.2,385.5 141.4,364.6 141.6,382.8 141.9,379.0 142.1,380.3 142.3,371.8 142.6,386.3 142.8,380.5 143.1,390.9 143.3,381.0 143.5,392.8 143.8,375.7 144.0,385.3 144.3,372.6 144.5,390.3 144.8,383.4 145.0,384.5 145.3,370.9 145.5,393.8 145.8,374.2 146.0,385.6 146.3,380.9 146.5,387.3 146.8,381.2 147.0,387.2 147.3,378.1 147.5,388.0 147.8,386.7 148.0,389.3 148.3,376.8 148.5,390.7 148.8,388.4 149.0,391.4 149.5,386.8 149.9,393.7 150.3,383.2 150.7,392.7 151.1,382.3 151.5,396.3 151.9,387.3 152.4,392.2 152.8,380.8 153.2,394.3 153.6,388.5 154.0,394.4 154.4,380.8 154.8,398.3 155.3,379.5 155.7,393.0 156.1,391.3 156.5,395.3 156.9,391.4 157.3,401.6 157.7,393.7 158.1,394.4 158.6,380.3 159.0,394.5 159.4,379.0 159.8,397.3 160.2,380.1 160.6,400.9 161.0,387.6 161.4,396.6 161.8,386.1 162.1,396.8 162.5,396.1 162.9,397.8 163.3,392.9 163.7,397.0 164.1,393.1 164.4,401.1 164.8,388.1 165.2,402.9 165.5,398.1 165.9,406.0 166.2,398.7 166.5,402.0 166.9,399.3 167.2,401.9 167.5,399.5 167.9,408.6 168.2,386.5 168.5,401.7 168.9,400.9 169.2,405.5 169.5,395.0 169.9,406.7 170.2,400.8 170.6,410.9 170.9,402.8 171.2,404.4 171.6,388.0 171.9,404.4 172.2,402.9 172.6,410.7 173.0,403.0 173.4,410.9 173.8,404.8 174.3,406.2 174.7,394.0 175.1,409.9 175.6,400.3 176.0,412.0 176.4,405.4 176.8,406.4 177.3,404.8 177.7,406.4 178.1,404.9 178.6,411.3 179.0,403.9 179.4,413.6 179.8,405.7 180.3,409.3 180.7,396.0 181.1,409.1 181.5,399.2 182.0,413.0 182.4,397.0 182.8,407.9 183.2,397.5 183.6,408.9 184.1,408.2 184.5,408.8 184.9,400.2 185.3,409.2 185.8,401.1 186.2,413.0 186.6,407.5 187.1,418.4 187.5,409.1 187.9,416.2 188.4,405.1 188.8,413.3 189.2,398.3 189.7,413.1 190.1,398.8 190.5,410.6 190.9,407.5 191.4,419.9 191.8,409.7 192.2,419.3 192.7,402.4 193.1,412.7 193.5,400.3 194.0,412.2 194.4,408.1 194.9,415.3 195.3,405.0 195.7,410.6 196.2,406.9 196.6,412.8 197.0,408.3 197.4,411.2 197.8,408.6 198.2,419.3 198.6,410.8 199.0,416.0 199.4,407.8 199.8,420.2 200.2,410.9 200.6,412.0 201.0,397.4 201.4,418.3 201.8,403.7 202.2,417.6 202.6,404.4 203.0,414.1 203.4,403.3 203.8,413.6 204.2,411.4 204.6,416.2 205.0,411.1 205.4,414.3 205.8,414.5 206.2,418.9 206.6,406.8 207.0,418.6 207.4,411.5 207.8,416.3 208.1,413.1 208.5,422.2 208.9,403.9 209.3,418.5 209.8,407.3 210.2,416.7 210.7,415.6 211.1,419.9 211.5,407.7 212.0,425.0 212.4,415.1 212.8,417.5 213.3,406.8 213.7,423.6 214.1,409.2 214.6,418.1 215.0,404.8 215.5,424.7 215.9,410.8 216.3,419.9 216.7,415.8 217.2,424.2 217.6,413.4 218.0,418.8 218.5,407.2 218.9,421.5 219.3,417.9 219.7,426.3 220.2,419.5 220.6,424.5 221.0,418.7 221.5,421.1 221.9,411.6 222.3,422.4 222.7,408.5 223.2,426.2 223.6,410.6 224.1,427.9 224.5,416.7 225.0,424.6 225.4,417.2 225.9,423.1 226.3,419.1 226.8,420.6 227.2,418.4 227.7,429.6 228.1,416.3 228.5,427.3 228.9,413.7 229.3,425.4 229.7,421.1 230.1,422.3 230.5,415.4 230.9,428.2 231.4,411.9 231.8,423.9 232.2,422.6 232.6,430.1 233.0,418.7 233.4,425.3 233.8,423.1 234.2,423.9 234.6,423.2 235.1,428.7 235.5,418.6 235.9,426.1 236.4,416.0 236.8,430.5 237.2,424.3 237.7,430.1 238.1,422.8 238.5,429.6 239.0,420.5 239.4,425.1 239.8,424.4 240.3,431.5 240.7,424.5 241.1,427.5 241.6,419.5 242.0,432.3 242.4,423.3 242.9,428.0 243.3,423.2 243.7,425.2 244.2,415.0 244.6,424.4 245.0,416.1 245.5,430.3 245.9,420.4 246.4,424.8 246.8,415.2 247.3,424.8 247.7,412.7 248.2,423.6 248.6,419.6 249.0,425.3 249.5,421.3 249.9,423.2 250.4,421.2 250.8,423.3 251.3,421.4 251.7,422.6 252.2,417.9 252.6,423.7 253.1,413.0 253.5,423.2 254.0,421.7 254.4,424.5 254.9,422.4 255.3,423.6 255.8,422.1 256.2,422.5 256.6,422.2 257.0,422.9 257.4,421.7 257.8,422.9 258.2,414.2 258.6,421.6 259.0,420.8 259.5,422.4 259.8,418.1 260.2,426.4 260.5,418.7 260.8,427.9 261.2,421.8 261.5,422.3 261.8,414.7 262.2,426.3 262.5,422.2 262.8,429.1 263.2,423.7 263.6,425.5 264.1,421.3 264.5,424.5 264.9,421.5 265.4,425.7 265.8,418.4 266.2,427.0 266.7,418.2 267.1,425.1 267.5,425.0 268.0,426.2 268.4,422.0 268.8,426.9 269.3,425.4 269.7,426.0 270.1,425.7 270.5,433.1 271.0,423.7 271.4,429.8 271.8,421.8 272.2,426.5 272.7,426.5 273.1,430.2 273.5,425.4 274.0,427.7 274.4,426.4 274.8,427.2 275.3,426.1 275.7,427.7 276.2,426.2 276.6,427.8 277.1,423.4 277.5,431.1 278.0,426.1 278.4,429.3 278.9,425.1 279.3,430.8 279.8,425.3 280.2,428.8 280.7,420.6 281.1,433.8 281.5,424.7 282.0,433.2 282.4,422.1 282.8,434.4 283.2,423.3 283.6,429.5 284.1,426.9 284.5,434.6 284.9,424.2 285.3,433.0 285.7,423.0 286.1,431.0 286.5,426.2 286.9,432.2 287.3,420.7 287.7,431.4 288.1,424.5 288.5,427.5 288.9,426.2 289.3,430.6 289.8,425.1 290.2,428.0 290.6,419.8 291.1,428.2 291.5,424.5 291.9,428.7 292.4,422.0 292.8,433.3 293.1,424.6 293.5,430.9 293.8,423.6 294.2,429.2 294.5,426.7 294.9,433.4 295.2,429.2 295.5,429.5 295.9,429.0 296.2,431.4 296.6,430.2 296.9,430.7 297.3,430.2 297.6,434.7 298.0,431.2 298.3,433.2 298.7,428.5 299.1,434.7 299.5,431.7 299.8,437.5 300.2,428.2 300.6,433.6 301.0,426.9 301.3,438.6 301.7,433.1 302.1,437.5 302.5,433.8 302.8,435.0 303.2,431.4 303.6,436.0 304.0,428.9 304.5,436.9 304.9,426.8 305.4,437.3 305.8,434.5 306.3,437.9 306.7,427.9 307.1,436.2 307.6,433.9 308.0,437.9 308.5,433.1 308.9,440.4 309.4,431.8 309.8,438.2 310.3,433.7 310.7,443.6 311.1,431.7 311.5,440.9 312.0,436.6 312.4,439.4 312.8,430.4 313.2,440.4 313.6,435.1 314.1,441.8 314.5,437.4 314.9,439.7 315.3,437.4 315.7,445.3 316.2,430.8 316.6,445.7 317.1,437.2 317.5,445.3 318.0,438.1 318.4,438.3 318.9,437.9 319.3,440.5 319.8,436.3 320.2,438.5 320.7,430.5 321.1,438.4 321.5,430.1 322.0,438.6 322.4,435.2 322.9,447.1 323.3,438.0 323.8,439.2 324.2,435.9 324.6,439.6 325.1,435.0 325.5,441.5 325.9,434.5 326.4,446.7 326.8,432.7 327.2,446.7 327.6,436.1 328.0,439.8 328.4,439.5 328.9,446.9 329.3,440.0 329.7,441.1 330.0,436.7 330.3,440.2 330.7,430.8 331.0,439.1 331.3,435.4 331.6,447.0 331.9,438.2 332.2,438.5 332.6,437.2 332.9,437.4 333.2,429.3 333.6,441.9 334.1,434.9 334.5,441.1 334.9,435.9 335.3,444.1 335.7,433.4 336.2,437.1 336.6,431.9 336.9,441.5 337.3,432.5 337.7,441.1 338.1,429.8 338.5,440.7 338.8,429.5 339.2,440.7 339.6,431.8 340.0,441.2 340.3,434.9 340.7,439.6 341.0,433.1 341.4,441.6 341.8,436.9 342.1,442.1 342.5,432.8 342.9,442.8 343.2,434.5 343.6,442.9 344.0,440.4 344.5,444.6 344.9,435.7 345.3,450.1 345.7,441.5 346.1,449.8 346.5,440.5 346.9,442.2 347.4,439.3 347.8,445.3 348.2,441.5 348.6,448.8 349.0,441.5 349.4,445.4 349.8,443.1 350.2,450.8 350.6,439.9 351.0,444.4 351.4,436.7 351.8,447.2 352.2,443.9 352.6,445.2 353.0,438.5 353.4,445.5 353.8,438.9 354.2,451.8 354.6,444.6 355.0,448.6 355.4,441.6 355.8,449.2 356.2,439.6 356.7,447.3 357.1,446.5 357.5,447.7 357.9,444.1 358.4,449.5 358.8,441.1 359.2,455.0 359.6,441.5 360.0,453.0 360.5,448.0 360.9,450.2 361.3,446.8 361.7,451.4 362.2,444.7 362.6,448.9 363.0,446.7 363.4,448.8 363.8,444.3 364.3,449.9 364.7,441.5 365.1,453.5 365.5,447.6 365.9,447.6 366.3,441.9 366.8,451.9 367.1,440.2 367.4,448.0 367.8,443.2 368.1,451.9 368.4,445.4 368.8,449.5 369.1,448.6 369.4,452.2 369.8,447.8 370.1,457.5 370.4,449.8 370.8,450.8 371.3,449.7 371.7,452.4 372.1,445.8 372.6,456.3 373.0,449.0 373.4,453.0 373.8,448.8 374.3,455.5 374.7,449.5 375.1,459.0 375.5,450.9 375.8,453.2 376.1,448.6 376.5,457.5 376.8,451.1 377.2,453.8 377.5,453.6 377.9,456.1 378.2,451.0 378.6,462.1 378.9,454.7 379.2,455.7 379.6,455.8 379.9,459.7 380.3,455.4 380.7,464.3 381.1,456.6 381.5,457.5 381.8,456.0 382.2,462.9 382.6,457.5 383.0,462.2 383.4,455.7 383.8,462.3 384.2,452.4 384.6,459.7 385.0,451.0 385.4,465.4 385.7,451.1 386.1,466.4 386.6,452.2 387.0,463.2 387.5,457.5 387.9,465.9 388.3,453.9 388.8,461.1 389.2,456.9 389.7,459.3 390.1,451.6 390.5,459.4 391.0,457.8 391.4,459.1 391.9,453.0 392.3,458.6 392.7,453.5 393.2,461.2 393.6,453.8 394.0,458.6 394.4,457.7 394.9,464.3 395.3,457.3 395.7,459.9 396.1,453.7 396.5,464.3 396.9,458.6 397.3,462.6 397.7,457.6 398.2,460.4 398.6,459.9 399.0,463.7 399.4,454.8 399.8,460.7 400.2,459.4 400.6,466.2 401.0,459.1 401.4,459.3 401.8,458.4 402.3,466.7 402.7,458.4 403.1,460.6 403.5,455.3 403.9,460.4 404.3,457.1 404.7,460.0 405.1,453.6 405.5,461.1 406.0,452.4 406.4,461.4 406.8,456.9 407.3,457.6 407.7,457.5 408.1,462.9 408.6,454.0 409.0,460.2 409.4,456.8 409.9,458.9 410.3,457.0 410.7,463.4 411.2,456.6 411.6,459.4 412.0,451.6 412.4,459.8 412.8,458.6 413.2,462.9 413.6,459.1 414.0,467.4 414.4,455.2 414.9,460.8 415.3,458.7 415.7,466.8 416.1,452.0 416.5,461.2 416.9,454.8 417.3,463.1 417.7,461.5 418.1,468.5 418.6,460.4 419.0,465.4 419.4,456.5 419.9,462.4 420.3,460.5 420.7,469.6 421.2,456.0 421.6,461.1 422.1,455.0 422.5,467.6 422.9,452.9 423.4,463.3 423.8,459.1 424.2,461.4 424.7,454.6 425.1,461.3 425.6,459.1 426.0,464.8 426.5,454.4 426.9,463.3 427.4,459.4 427.8,460.4 428.3,458.8 428.7,459.8 429.1,459.0 429.6,464.8 430.0,458.2 430.5,459.6 430.9,458.5 431.4,462.5 431.8,454.1 432.3,461.3 432.7,457.8 433.0,463.3 433.2,453.7 433.4,458.2 433.7,457.6 433.9,463.1 434.1,449.9 434.2,464.0 434.3,455.6 434.4,456.1 434.4,454.4 434.5,454.8 434.6,454.2 434.7,457.3 434.7,452.5 434.8,453.9 434.9,449.6 435.0,453.3 435.0,451.3 435.1,451.7 435.2,448.5 435.3,451.8 435.3,449.7 435.4,450.9 435.5,448.7 435.6,448.5 435.6,446.3 435.7,447.9 435.8,446.9 435.9,447.2 435.9,446.2 436.0,446.3 436.1,445.1 436.2,445.9 436.2,444.0 436.3,444.2 436.4,441.7 436.5,444.6 436.5,440.7 436.6,442.5 436.7,439.3 436.8,443.5 436.8,440.1 436.9,441.3 437.0,440.0 437.0,439.6 437.1,437.8 437.2,440.0 437.3,436.4 437.3,437.9 437.4,437.2 437.5,439.0 437.6,434.6 437.6,436.6 437.7,435.0 437.8,436.7 437.8,434.5 437.8,435.6 437.9,431.9 437.9,434.3 437.9,431.6 437.9,432.6 437.9,431.7 438.0,431.6 438.0,431.1 438.0,433.1 438.0,430.2 438.0,429.8 438.1,427.2 438.1,429.5 438.1,427.6 438.1,429.4 438.2,425.0 438.2,427.9 438.2,424.1 438.2,428.2 438.2,425.7 438.3,426.3 438.3,423.7 438.3,425.6 438.3,422.9 438.3,425.8 438.4,421.4 438.4,424.0 438.4,420.2 438.4,421.8 438.5,421.0 438.5,421.0 438.5,420.2 438.5,420.2 438.5,417.4 438.6,419.9 438.6,417.2 438.6,418.1 438.6,415.3 438.6,417.2 438.7,415.0 438.7,416.3 438.7,415.2 438.7,416.0 438.7,414.9 438.8,414.9 438.8,413.1 438.8,416.0 438.8,412.4 438.9,413.7 438.9,411.0 438.9,411.9 438.9,410.0 438.9,411.5 439.0,410.4 439.0,410.5 439.0,408.2 439.0,409.2 439.0,407.7 439.1,408.5 439.1,405.3 439.1,407.5 439.1,405.2 439.2,408.8 439.2,405.6 439.2,407.5 439.3,404.9 439.3,405.5 439.3,403.9 439.4,403.8 439.4,400.6 439.4,403.3 439.4,400.9 439.5,404.1 439.5,400.5 439.5,403.4 439.6,398.3 439.6,401.7 439.6,397.6 439.7,399.7 439.7,397.6 439.7,401.1 439.7,397.4 439.8,397.6 439.8,395.6 439.8,396.5 439.9,394.5 439.9,395.6 439.9,394.4 440.0,394.8 440.0,393.1 440.0,394.0 440.1,392.3 440.1,394.9 440.1,391.4 440.1,392.1 440.2,390.1 440.2,392.6 440.2,390.2 440.3,390.3 440.3,388.4 440.3,389.9 440.4,388.2 440.4,390.2 440.4,387.5 440.4,387.8 440.5,385.0 440.5,387.7 440.5,384.0 440.6,387.0 440.6,383.1 440.6,385.4 440.7,383.8 440.7,384.2 440.7,383.0 440.8,383.1 440.8,381.6 440.8,382.4 440.8,379.6 440.9,381.8 440.9,380.0 440.9,380.4 441.0,377.6 441.0,380.0 441.0,377.2 441.1,379.4 441.1,378.0 441.1,378.0 441.2,376.7 441.2,377.7 441.2,376.3 441.3,376.2 441.3,374.4 441.3,375.0 441.4,374.4 441.4,374.2 441.5,371.7 441.5,375.0 441.5,371.9 441.6,373.4 441.6,370.3 441.6,372.9 441.7,370.1 441.7,371.8 441.8,368.2 441.8,369.6 441.8,369.1 441.9,368.7 441.9,368.0 441.9,368.2 442.0,367.3 442.0,367.4 442.0,366.4 442.1,366.6 442.1,365.3 442.2,366.2 442.2,363.9 442.2,365.1 442.3,363.6 442.3,364.6 442.3,362.9 442.4,362.8 442.4,361.8 442.4,362.8 442.5,358.7 442.5,362.7 442.6,358.9 442.6,361.5 442.6,357.4 442.7,360.9 442.7,358.3 442.7,360.0 442.8,356.8 442.8,358.2 442.9,355.7 442.9,358.0 442.9,355.4 443.0,355.9 443.0,354.6 443.0,354.4 443.1,352.7 443.1,354.0 443.1,351.0 443.2,355.1 443.2,350.4 443.3,352.5 443.3,351.2 443.3,353.1 443.4,350.0 443.4,350.4 443.4,348.9 443.5,351.8 443.5,346.3 443.6,348.6 443.7,346.8 443.7,348.0 443.8,346.7 443.9,346.3 443.9,344.5 444.0,345.9 444.1,344.1 444.1,346.9 444.2,344.1 444.3,343.6 444.3,341.9 444.4,344.5 444.5,340.1 444.5,343.0 444.6,340.7 444.7,341.6 444.7,339.0 444.8,340.6 444.9,337.9 444.9,339.6 445.0,338.2 445.0,338.4 445.1,337.5 445.2,337.8 445.2,336.1 445.3,336.7 445.3,334.2 445.4,336.5 445.5,333.2 445.5,335.0 445.6,334.0 445.6,336.1 445.7,333.0 445.8,334.6 445.8,332.1 445.9,332.1 446.0,331.1 446.0,332.4 446.1,329.8 446.1,332.5 446.2,329.3 446.3,330.8 446.3,326.7 446.4,329.2 446.5,326.2 446.6,328.4 446.7,326.5 446.8,326.9 446.9,324.5 446.9,327.5 447.0,325.4 447.1,327.4 447.2,322.4 447.3,326.1 447.4,323.6 447.5,324.0 447.5,320.1 447.6,322.8 447.7,321.2 447.8,321.5 447.9,320.9 448.0,322.3 448.1,319.9 448.1,320.4 448.3,318.0 448.4,319.6 448.5,317.9 448.7,317.9 448.8,317.4 448.9,318.6 449.1,315.0 449.2,317.1 449.3,315.8 449.5,322.4 449.6,311.3 449.8,315.6 449.9,309.6 450.0,320.0 450.2,307.8 450.3,315.4 450.4,308.5 450.6,313.7 450.7,308.9 450.9,311.7 451.2,302.2 451.4,310.6 451.6,304.1 451.8,315.3 452.1,307.7 452.3,312.1 452.5,304.1 452.8,308.7 453.0,307.4 453.2,319.2 453.5,295.6 453.7,307.2 454.1,306.1 454.5,306.2 454.8,305.3 455.2,306.9 455.6,305.2 455.9,307.7 456.3,304.2 456.7,316.5 457.1,302.3 457.6,310.1 458.0,299.9 458.5,308.0 458.9,297.1 459.3,317.1 459.7,299.6 460.1,305.8 460.5,301.3" fill="none" stroke="#d6d6d6" stroke-width="0.55"/><path d="M65.2,418.5 65.5,408.7 65.9,414.9 66.2,412.3 66.6,418.8 66.9,407.2 67.3,415.7 67.6,411.5 68.0,419.2 68.3,409.8 68.7,417.3 69.0,410.7 69.4,414.7 69.7,410.6 70.0,416.9 70.3,411.2 70.6,418.8 70.9,409.6 71.2,419.7 71.5,409.6 71.8,415.6 72.0,410.7 72.2,420.1 72.4,410.2 72.6,423.1 72.7,416.6 72.9,422.9 73.1,415.1 73.3,422.3 73.5,412.4 73.7,424.2 73.8,412.1 73.9,423.5 74.1,413.2 74.2,423.4 74.3,417.8 74.5,421.8 74.6,416.7 74.7,426.2 74.9,417.6 75.0,426.3 75.1,420.5 75.3,428.7 75.4,418.9 75.5,427.9 75.7,418.5 75.8,428.6 76.0,420.8 76.1,425.2 76.3,420.9 76.5,427.4 76.7,421.9 76.9,431.8 77.1,423.0 77.3,430.6 77.6,424.7 77.8,430.0 78.0,424.3 78.2,428.7 78.4,424.6 78.6,432.6 78.8,424.1 79.0,431.5 79.2,423.7 79.5,431.7 79.7,427.9 79.9,430.2 80.1,425.3 80.3,432.7 80.5,428.2 80.7,435.8 80.9,428.6 81.2,435.6 81.4,428.9 81.6,435.8 81.8,428.4 82.0,432.3 82.2,428.1 82.5,434.5 82.7,430.0 82.9,437.3 83.1,427.9 83.3,436.5 83.6,429.8 83.8,437.3 84.0,430.3 84.2,435.9 84.4,429.6 84.7,436.4 84.9,431.6 85.1,436.3 85.3,435.2 85.5,441.3 85.8,432.3 86.0,437.7 86.2,435.1 86.4,438.0 86.6,432.6 86.9,443.0 87.1,433.6 87.3,443.2 87.5,434.6 87.7,439.4 88.0,438.6 88.2,442.0 88.4,435.8 88.6,446.0 88.8,437.1 89.1,442.8 89.3,436.5 89.5,447.9 89.8,437.9 90.0,445.9 90.2,439.6 90.4,447.7 90.7,441.1 90.9,447.4 91.1,441.2 91.4,448.1 91.6,440.0 91.8,449.6 92.0,440.2 92.3,450.8 92.5,441.2 92.7,445.1 93.0,438.9 93.2,450.9 93.4,440.3 93.6,452.1 93.9,444.9 94.1,452.8 94.3,445.9 94.5,449.5 94.8,445.9 95.1,450.9 95.3,446.1 95.6,449.8 95.8,444.5 96.1,449.9 96.4,445.3 96.6,454.1 96.9,448.8 97.2,455.6 97.4,444.9 97.7,455.3 97.9,445.4 98.2,456.9 98.5,449.2 98.7,451.6 99.0,446.1 99.3,451.4 99.5,447.1 99.8,456.6 100.1,446.0 100.4,452.8 100.8,449.0 101.1,457.6 101.5,449.0 101.8,454.3 102.2,450.0 102.5,451.8 102.9,447.9 103.2,452.3 103.6,448.2 103.9,457.3 104.3,448.7 104.4,455.4 104.4,446.0 104.5,451.9 104.6,446.7 104.6,453.8 104.7,446.7 104.8,451.3 104.9,447.7 104.9,450.6 105.0,445.4 105.1,452.2 105.1,446.0 105.2,450.7 105.3,443.7 105.3,448.0 105.4,443.8 105.5,445.8 105.5,442.2 105.6,446.7 105.7,443.9 105.8,446.6 105.8,441.6 105.9,445.5 106.0,441.0 106.0,443.6 106.1,441.2 106.2,443.2 106.2,440.4 106.3,442.2 106.4,439.6 106.5,441.9 106.5,439.5 106.6,441.7 106.7,439.0 106.7,440.2 106.8,437.1 106.9,439.7 106.9,437.6 107.0,440.1 107.1,435.8 107.1,439.4 107.2,436.7 107.3,438.3 107.3,435.7 107.4,437.5 107.5,433.7 107.5,437.1 107.6,434.7 107.6,436.1 107.7,433.7 107.8,435.8 107.8,432.9 107.9,433.8 108.0,431.9 108.0,433.8 108.1,430.5 108.2,432.3 108.2,429.9 108.3,432.2 108.4,428.8 108.4,431.9 108.5,429.6 108.5,430.9 108.6,427.9 108.7,430.8 108.7,427.7 108.8,429.3 108.9,426.6 108.9,428.0 109.0,425.9 109.1,427.9 109.1,425.3 109.2,426.6 109.2,425.4 109.3,426.3 109.4,424.6 109.4,426.8 109.5,422.8 109.6,424.6 109.6,422.7 109.7,425.6 109.8,421.5 109.8,423.1 109.9,420.9 110.0,423.9 110.0,420.0 110.1,422.9 110.2,420.1 110.2,421.4 110.3,419.0 110.4,421.0 110.4,419.0 110.5,420.8 110.6,418.9 110.6,420.0 110.7,417.7 110.8,419.2 110.8,417.3 110.9,419.0 110.9,415.3 111.0,418.2 111.1,414.5 111.1,417.8 111.2,414.4 111.3,416.9 111.3,414.6 111.4,415.8 111.5,412.5 111.5,415.5 111.6,411.7 111.7,414.1 111.7,412.5 111.8,412.8 111.9,412.2 111.9,413.2 112.0,410.1 112.1,411.7 112.1,408.8 112.2,411.3 112.3,409.6 112.3,411.4 112.4,409.4 112.4,410.1 112.4,407.5 112.5,409.6 112.5,407.5 112.5,409.3 112.6,406.3 112.6,408.2 112.7,405.9 112.7,408.1 112.7,405.8 112.8,406.3 112.8,403.9 112.9,405.8 112.9,403.0 112.9,405.9 113.0,403.0 113.0,405.2 113.0,401.9 113.1,404.2 113.1,401.4 113.2,403.3 113.2,400.1 113.2,403.0 113.3,400.6 113.3,402.5 113.4,399.2 113.4,401.1 113.4,398.6 113.5,400.5 113.6,398.0 113.6,400.6 113.7,396.9 113.7,398.4 113.8,396.9 113.9,398.2 113.9,395.1 114.0,397.9 114.0,395.0 114.1,397.8 114.2,394.0 114.2,395.9 114.3,394.3 114.3,395.8 114.4,393.2 114.4,394.0 114.5,392.4 114.6,394.9 114.7,391.5 114.8,392.9 114.9,390.9 115.0,392.3 115.2,389.8 115.3,392.3 115.4,389.3 115.6,392.1 115.7,388.5 115.8,391.0 116.0,388.5 116.1,389.5 116.2,387.6 116.3,389.2 116.5,387.7 116.6,389.2 116.7,386.3 116.9,387.7 117.0,385.9 117.1,386.7 117.3,386.2 117.4,387.2 117.5,384.3 117.6,386.3 117.8,383.8 117.9,386.3 118.0,383.3 118.2,385.9 118.3,382.5 118.4,385.4 118.6,381.1 118.7,384.7 118.9,380.6 119.0,384.7 119.2,379.1 119.3,384.6 119.5,377.3 119.7,383.7 119.8,378.4 120.0,384.3 120.1,376.1 120.3,381.3 120.5,374.0 120.7,380.7 121.0,378.7 121.2,383.6 121.4,375.9 121.6,380.5 121.9,373.8 122.1,378.4 122.3,373.0 122.5,379.5 122.7,376.2 123.0,378.8 123.2,370.8 123.4,381.0 123.6,370.7 123.9,380.6 124.1,370.2 124.3,377.4 124.6,369.7 124.9,378.3 125.3,368.4 125.6,377.4 126.0,368.3 126.3,375.9 126.7,371.4 127.0,377.0 127.3,371.7 127.7,376.1 128.0,370.9 128.4,378.2 128.7,369.9 129.1,375.7 129.4,373.1 129.7,379.1 130.1,368.3 130.4,378.5 130.8,373.3 131.1,374.8 131.4,371.5 131.8,375.0 132.1,372.6 132.4,379.6 132.7,370.4 133.0,378.3 133.3,367.1 133.6,376.9 133.9,367.1 134.2,377.1 134.5,369.1 134.8,377.5 135.1,370.8 135.4,374.6 135.7,367.1 136.0,374.3 136.3,370.6 136.6,376.5 136.8,366.0 137.1,375.8 137.3,368.8 137.6,377.8 137.8,370.3 138.1,376.6 138.3,371.8 138.6,379.4 138.8,369.6 139.1,380.2 139.3,369.7 139.6,381.0 139.8,369.1 140.0,379.6 140.1,370.0 140.3,381.2 140.5,374.6 140.7,380.7 140.9,375.4 141.1,382.9 141.2,372.6 141.4,383.8 141.6,374.7 141.8,384.6 142.0,378.3 142.2,380.4 142.3,376.4 142.5,381.9 142.7,376.0 142.9,382.8 143.1,375.0 143.3,385.9 143.5,374.8 143.6,386.8 143.8,380.7 144.0,384.3 144.2,375.5 144.4,388.5 144.6,375.2 144.8,389.0 145.0,379.1 145.2,386.4 145.4,384.0 145.6,388.4 145.8,384.3 146.0,389.5 146.2,384.0 146.4,387.7 146.5,383.4 146.7,390.2 146.9,384.2 147.1,390.3 147.3,379.4 147.5,390.6 147.7,380.8 147.9,391.0 148.1,386.6 148.3,391.4 148.5,381.3 148.7,393.5 148.9,386.0 149.1,391.8 149.5,384.2 149.8,393.0 150.1,383.7 150.4,391.9 150.7,382.9 151.1,395.1 151.4,384.5 151.7,394.4 152.0,385.6 152.4,392.9 152.7,386.9 153.0,395.1 153.3,388.3 153.6,395.1 154.0,385.0 154.3,394.7 154.6,389.3 154.9,395.5 155.3,384.5 155.6,394.0 155.9,388.3 156.2,397.5 156.5,389.7 156.9,396.9 157.2,385.2 157.5,396.0 157.8,389.1 158.1,394.6 158.5,387.6 158.8,395.2 159.1,392.8 159.4,398.3 159.7,389.4 160.1,399.2 160.4,392.3 160.7,395.4 161.0,387.1 161.3,400.6 161.6,391.1 161.9,397.3 162.2,389.2 162.5,399.9 162.8,390.6 163.1,397.3 163.4,394.8 163.7,399.5 164.0,392.9 164.3,402.6 164.6,395.7 164.9,402.6 165.1,395.8 165.4,401.9 165.7,389.6 165.9,399.4 166.2,390.2 166.5,403.6 166.7,391.8 167.0,402.9 167.2,398.5 167.5,405.2 167.8,391.4 168.0,401.3 168.3,395.2 168.5,402.6 168.8,393.7 169.1,403.1 169.3,397.3 169.6,406.1 169.8,398.3 170.1,403.0 170.4,399.2 170.6,405.0 170.9,401.4 171.1,408.4 171.4,399.0 171.7,406.1 171.9,397.0 172.2,406.5 172.5,398.1 172.7,409.0 173.1,398.7 173.4,405.4 173.7,395.9 174.1,410.6 174.4,400.3 174.7,408.0 175.1,399.0 175.4,408.0 175.7,402.0 176.1,407.6 176.4,404.5 176.8,410.6 177.1,404.6 177.4,408.1 177.8,398.2 178.1,410.8 178.4,398.3 178.8,406.5 179.1,403.0 179.4,409.5 179.8,401.1 180.1,408.9 180.4,402.4 180.7,412.3 181.1,403.2 181.4,411.9 181.7,402.3 182.1,412.6 182.4,401.2 182.7,408.6 183.0,402.0 183.4,411.6 183.7,401.1 184.0,411.1 184.4,406.4 184.7,413.2 185.0,406.5 185.3,410.7 185.7,405.9 186.0,411.4 186.3,405.2 186.7,411.8 187.0,404.7 187.3,413.6 187.7,402.3 188.0,412.3 188.4,406.2 188.7,411.6 189.0,404.0 189.4,414.7 189.7,405.2 190.0,414.6 190.4,407.3 190.7,413.9 191.0,409.3 191.4,413.4 191.7,406.7 192.1,413.9 192.4,407.3 192.7,414.1 193.1,406.9 193.4,412.1 193.7,408.2 194.1,412.1 194.4,403.2 194.8,412.9 195.1,407.5 195.4,414.3 195.8,404.4 196.1,413.1 196.4,402.2 196.8,413.6 197.1,404.2 197.4,413.3 197.7,409.0 198.0,412.7 198.3,404.5 198.6,415.3 199.0,408.4 199.3,412.3 199.6,406.9 199.9,414.9 200.2,404.9 200.5,412.8 200.8,405.3 201.2,416.8 201.5,405.1 201.8,414.0 202.1,407.1 202.4,415.0 202.7,407.1 203.0,413.9 203.3,407.5 203.6,414.6 203.9,412.5 204.2,414.4 204.5,412.9 204.9,416.0 205.2,411.4 205.5,418.4 205.8,411.4 206.1,418.3 206.4,412.8 206.7,416.8 207.0,410.1 207.3,416.8 207.6,408.8 207.9,417.2 208.2,410.5 208.5,420.5 208.8,413.7 209.2,418.3 209.5,412.6 209.8,419.8 210.2,410.5 210.5,417.8 210.8,411.5 211.2,421.2 211.5,416.5 211.9,418.4 212.2,414.5 212.5,421.3 212.9,416.5 213.2,419.4 213.6,412.7 213.9,421.0 214.2,413.7 214.6,422.3 214.9,415.4 215.3,419.1 215.6,415.5 215.9,418.6 216.3,417.3 216.6,419.9 216.9,413.8 217.3,419.3 217.6,414.3 217.9,421.6 218.3,415.4 218.6,423.1 218.9,415.0 219.3,419.3 219.6,413.9 219.9,423.0 220.3,417.8 220.6,422.2 220.9,416.7 221.3,423.1 221.6,412.9 221.9,423.3 222.3,419.8 222.6,421.4 222.9,414.0 223.3,424.7 223.6,417.0 224.0,424.9 224.3,419.8 224.7,424.8 225.0,414.2 225.4,424.5 225.7,417.4 226.1,424.3 226.4,416.0 226.8,423.4 227.1,417.2 227.5,425.2 227.8,416.3 228.1,421.5 228.5,415.9 228.8,424.5 229.1,419.4 229.4,424.3 229.7,419.0 230.0,422.7 230.4,421.1 230.7,422.6 231.0,421.9 231.3,424.2 231.6,417.7 231.9,423.4 232.3,419.7 232.6,424.0 232.9,418.2 233.2,425.0 233.5,421.8 233.8,426.7 234.2,419.4 234.5,426.8 234.8,423.8 235.2,425.7 235.5,422.9 235.8,425.1 236.2,420.6 236.5,427.7 236.9,422.4 237.2,425.2 237.5,419.0 237.9,428.2 238.2,419.3 238.5,427.9 238.9,422.2 239.2,427.8 239.6,419.3 239.9,425.4 240.2,423.0 240.6,426.3 240.9,424.4 241.2,427.2 241.6,423.4 241.9,426.7 242.3,424.1 242.6,427.2 242.9,421.9 243.3,425.1 243.6,422.0 243.9,424.1 244.3,421.6 244.6,427.5 244.9,421.2 245.3,427.6 245.6,419.3 246.0,425.6 246.3,422.0 246.7,426.7 247.0,420.9 247.4,424.4 247.7,418.6 248.1,426.2 248.4,420.5 248.8,423.9 249.1,420.5 249.4,426.2 249.8,420.5 250.1,423.4 250.5,421.0 250.8,423.9 251.2,420.3 251.5,426.0 251.9,420.3 252.2,425.2 252.6,418.2 252.9,425.1 253.3,418.0 253.6,424.3 254.0,418.1 254.3,424.5 254.7,417.7 255.0,425.1 255.4,419.3 255.7,423.4 256.1,418.9 256.4,423.5 256.7,421.0 257.0,423.6 257.3,418.1 257.7,422.6 258.0,418.6 258.3,424.0 258.6,419.7 258.9,424.5 259.2,416.7 259.5,423.7 259.8,417.7 260.1,421.9 260.3,417.6 260.6,422.1 260.9,421.2 261.1,424.9 261.4,421.8 261.6,422.7 261.9,421.7 262.2,425.6 262.4,421.2 262.7,426.9 262.9,423.2 263.3,424.3 263.6,420.5 263.9,426.9 264.3,421.2 264.6,427.2 264.9,420.5 265.3,426.5 265.6,421.1 265.9,427.0 266.3,423.9 266.6,427.5 267.0,421.0 267.3,426.0 267.6,421.9 268.0,427.0 268.3,422.7 268.6,427.9 269.0,424.6 269.3,429.1 269.6,425.5 270.0,429.2 270.3,423.1 270.6,427.6 271.0,423.2 271.3,428.3 271.6,424.3 272.0,429.5 272.3,426.2 272.6,427.0 273.0,425.6 273.3,428.8 273.6,425.5 274.0,427.2 274.3,424.4 274.6,430.3 275.0,423.9 275.3,428.0 275.7,423.5 276.0,429.7 276.4,423.7 276.7,427.9 277.1,422.9 277.4,429.4 277.8,422.7 278.1,428.8 278.5,426.7 278.8,429.9 279.2,427.3 279.5,429.8 279.9,425.2 280.2,430.1 280.6,427.1 280.9,430.1 281.3,427.5 281.6,430.8 281.9,426.6 282.2,430.1 282.6,424.8 282.9,429.1 283.2,426.3 283.5,429.7 283.9,425.6 284.2,432.3 284.5,427.4 284.8,431.5 285.1,427.1 285.5,431.9 285.8,423.9 286.1,429.0 286.4,427.0 286.7,430.6 287.0,423.7 287.3,431.1 287.7,424.2 288.0,428.8 288.3,426.3 288.6,429.1 288.9,424.2 289.2,429.4 289.6,422.8 289.9,429.6 290.2,423.7 290.6,429.7 290.9,423.3 291.3,427.6 291.6,425.7 291.9,430.5 292.3,424.7 292.6,428.6 292.9,425.9 293.2,428.6 293.4,426.6 293.7,431.8 294.0,428.1 294.2,430.1 294.5,425.5 294.8,429.0 295.1,428.8 295.3,429.9 295.6,428.8 295.9,430.7 296.1,427.8 296.4,433.4 296.7,427.8 296.9,434.9 297.2,427.6 297.5,433.4 297.7,430.2 298.0,435.6 298.3,429.0 298.6,435.5 298.9,429.2 299.2,436.6 299.5,430.9 299.8,435.0 300.1,429.9 300.3,435.0 300.6,429.0 300.9,437.6 301.2,432.2 301.5,437.9 301.8,430.3 302.1,436.4 302.4,431.9 302.7,438.0 303.0,433.3 303.3,436.7 303.6,434.0 303.9,437.1 304.2,431.3 304.6,437.2 304.9,431.7 305.3,437.1 305.6,433.1 306.0,438.2 306.3,433.5 306.7,439.0 307.0,431.8 307.3,437.1 307.7,434.5 308.0,438.4 308.4,433.2 308.7,437.0 309.1,433.8 309.4,437.4 309.8,435.4 310.1,439.2 310.5,433.2 310.8,438.9 311.1,435.2 311.4,438.3 311.8,435.7 312.1,439.0 312.4,434.8 312.7,439.9 313.1,434.6 313.4,439.4 313.7,433.8 314.1,440.9 314.4,435.0 314.7,440.2 315.0,434.8 315.4,439.1 315.7,434.5 316.0,440.8 316.4,437.4 316.7,441.8 317.1,437.6 317.4,441.5 317.8,436.9 318.1,441.9 318.5,435.2 318.8,438.9 319.2,437.2 319.5,439.3 319.9,437.6 320.2,441.2 320.6,436.0 320.9,441.4 321.2,436.9 321.6,438.0 321.9,436.7 322.3,441.0 322.6,436.1 323.0,440.9 323.3,436.5 323.7,441.8 324.0,437.0 324.3,439.9 324.7,436.4 325.0,440.4 325.4,436.8 325.7,441.7 326.0,437.0 326.4,441.6 326.7,438.0 327.0,441.4 327.3,438.9 327.7,443.3 328.0,438.5 328.3,441.7 328.6,438.0 329.0,443.2 329.3,438.1 329.6,442.9 329.9,438.7 330.1,441.5 330.4,438.1 330.6,443.4 330.9,435.5 331.1,439.5 331.4,438.0 331.6,439.0 331.9,436.9 332.1,440.3 332.4,436.4 332.6,440.6 332.8,435.5 333.1,439.7 333.4,436.7 333.7,436.8 334.1,434.1 334.4,438.4 334.7,435.2 335.0,439.0 335.4,435.1 335.7,436.2 336.0,432.5 336.3,436.5 336.6,432.9 336.9,439.5 337.2,432.2 337.5,440.3 337.8,433.5 338.1,438.8 338.4,433.8 338.7,438.9 339.0,435.6 339.3,440.2 339.6,436.6 339.9,441.6 340.2,435.1 340.4,439.1 340.7,436.5 341.0,439.8 341.3,437.0 341.6,441.5 341.8,436.9 342.1,443.4 342.4,437.9 342.7,444.1 343.0,436.7 343.3,441.2 343.6,438.0 343.9,444.2 344.2,438.6 344.6,444.7 344.9,440.7 345.2,442.5 345.5,438.0 345.8,444.2 346.2,439.1 346.5,443.8 346.8,438.6 347.1,445.4 347.4,441.2 347.8,444.7 348.1,438.4 348.4,446.7 348.7,439.0 349.0,443.8 349.4,442.6 349.7,446.0 350.0,439.4 350.3,446.6 350.6,443.5 350.9,445.7 351.2,443.8 351.5,447.7 351.9,442.4 352.2,446.8 352.5,443.8 352.8,448.3 353.1,443.0 353.4,447.8 353.7,443.4 354.0,446.0 354.4,444.3 354.7,447.5 355.0,443.1 355.3,448.5 355.6,444.0 355.9,450.1 356.2,443.0 356.6,448.8 356.9,444.1 357.2,450.1 357.6,445.4 357.9,449.2 358.2,444.3 358.5,448.2 358.9,446.5 359.2,449.0 359.5,447.0 359.9,449.4 360.2,447.8 360.5,450.1 360.8,444.6 361.2,448.4 361.5,446.0 361.8,451.7 362.2,446.2 362.5,451.2 362.8,448.7 363.1,452.4 363.5,446.1 363.8,450.9 364.1,446.5 364.4,451.8 364.8,447.3 365.1,449.5 365.4,445.7 365.7,450.9 366.1,446.3 366.4,448.4 366.7,446.0 367.0,450.0 367.3,444.6 367.5,449.5 367.8,445.8 368.0,449.4 368.3,445.2 368.6,452.2 368.8,446.5 369.1,452.0 369.3,448.5 369.6,451.8 369.8,446.3 370.1,450.2 370.4,447.6 370.7,452.6 371.0,449.4 371.3,451.5 371.7,449.2 372.0,454.9 372.3,449.3 372.6,453.3 373.0,448.1 373.3,451.9 373.6,448.4 374.0,454.9 374.3,450.7 374.6,452.7 375.0,451.1 375.3,452.6 375.5,450.9 375.8,455.1 376.1,451.0 376.3,455.1 376.6,451.3 376.9,457.1 377.1,449.8 377.4,454.3 377.7,452.8 377.9,456.3 378.2,451.9 378.5,456.7 378.7,451.3 379.0,456.0 379.3,452.2 379.6,458.2 379.8,454.1 380.1,459.2 380.4,452.8 380.7,459.6 381.0,452.8 381.3,459.4 381.6,453.4 381.9,459.4 382.2,455.6 382.5,460.5 382.8,454.2 383.1,459.4 383.4,454.1 383.7,462.2 384.0,455.6 384.3,459.2 384.6,455.5 384.9,460.7 385.2,455.8 385.5,462.4 385.8,459.1 386.1,460.7 386.5,455.8 386.8,462.2 387.2,456.8 387.5,463.1 387.8,458.4 388.2,462.2 388.5,457.0 388.9,462.4 389.2,458.2 389.6,461.9 389.9,456.2 390.2,461.9 390.6,455.9 390.9,460.6 391.3,457.3 391.6,459.2 391.9,455.1 392.3,459.2 392.6,455.5 393.0,459.6 393.3,455.0 393.7,459.7 394.0,455.7 394.3,460.7 394.6,457.6 394.9,461.4 395.3,458.1 395.6,462.0 395.9,458.3 396.2,459.9 396.6,457.3 396.9,463.3 397.2,457.4 397.5,462.3 397.8,456.0 398.2,461.6 398.5,457.0 398.8,464.1 399.1,457.4 399.4,460.6 399.8,456.6 400.1,463.5 400.4,457.4 400.7,461.4 401.0,455.7 401.3,462.6 401.7,457.5 402.0,462.0 402.3,457.5 402.6,461.2 402.9,454.3 403.3,460.9 403.6,456.2 403.9,461.4 404.2,454.3 404.5,461.6 404.9,456.3 405.2,458.6 405.5,457.1 405.8,460.8 406.2,454.6 406.5,460.3 406.8,453.9 407.2,458.4 407.5,457.1 407.8,459.5 408.2,457.5 408.5,458.7 408.8,457.0 409.2,458.1 409.5,456.5 409.9,461.7 410.2,455.4 410.5,460.4 410.9,456.1 411.2,461.5 411.5,458.4 411.9,461.5 412.2,456.7 412.5,462.5 412.8,456.5 413.1,462.4 413.4,457.1 413.8,461.0 414.1,456.7 414.4,462.9 414.7,457.1 415.0,462.1 415.4,457.0 415.7,464.1 416.0,457.8 416.3,462.4 416.6,460.2 416.9,464.2 417.3,459.5 417.6,464.2 417.9,459.8 418.2,465.9 418.6,459.5 418.9,465.0 419.2,460.3 419.6,464.7 419.9,461.2 420.3,465.4 420.6,459.8 420.9,462.5 421.3,457.4 421.6,463.5 422.0,457.5 422.3,463.7 422.6,459.5 423.0,461.8 423.3,459.1 423.7,464.3 424.0,456.7 424.3,461.6 424.7,460.0 425.0,464.0 425.4,458.6 425.7,462.5 426.1,457.0 426.4,462.9 426.8,458.5 427.1,460.7 427.5,458.0 427.8,463.2 428.2,457.2 428.5,463.2 428.8,456.5 429.2,461.6 429.5,456.8 429.9,462.7 430.2,457.0 430.6,460.6 430.9,456.3 431.3,462.2 431.6,456.4 432.0,460.4 432.3,457.3 432.7,462.8 432.9,455.3 433.1,461.8 433.3,457.1 433.4,460.8 433.6,454.6 433.8,460.4 434.0,455.7 434.1,457.8 434.2,453.9 434.3,457.3 434.3,454.1 434.4,455.7 434.4,454.0 434.5,457.4 434.5,454.1 434.6,456.0 434.7,453.4 434.7,454.8 434.8,452.3 434.8,454.0 434.9,451.3 435.0,452.6 435.0,451.1 435.1,452.5 435.1,450.8 435.2,451.8 435.2,449.7 435.3,450.2 435.4,448.9 435.4,450.0 435.5,448.8 435.5,448.9 435.6,447.9 435.7,448.7 435.7,446.9 435.8,448.0 435.8,445.7 435.9,447.5 436.0,445.4 436.0,446.1 436.1,445.1 436.1,445.9 436.2,444.8 436.2,445.3 436.3,443.2 436.4,444.4 436.4,442.9 436.5,443.8 436.5,441.5 436.6,443.3 436.6,441.2 436.7,442.8 436.8,441.3 436.8,441.9 436.9,440.4 436.9,440.8 437.0,439.3 437.0,440.5 437.1,439.2 437.2,439.6 437.2,438.0 437.3,439.2 437.3,436.9 437.4,438.5 437.4,436.5 437.5,437.7 437.6,436.3 437.6,436.9 437.7,435.5 437.7,436.3 437.8,434.6 437.8,435.5 437.8,434.0 437.8,434.8 437.9,433.4 437.9,433.8 437.9,431.8 437.9,433.2 437.9,431.9 437.9,432.5 438.0,430.6 438.0,432.5 438.0,430.3 438.0,431.7 438.0,429.5 438.0,430.8 438.1,429.2 438.1,429.8 438.1,428.0 438.1,429.1 438.1,427.6 438.1,428.6 438.2,426.7 438.2,427.9 438.2,426.1 438.2,426.7 438.2,425.0 438.2,426.6 438.3,424.8 438.3,425.2 438.3,424.1 438.3,424.7 438.3,422.8 438.3,424.3 438.4,422.1 438.4,423.7 438.4,421.9 438.4,423.1 438.4,421.6 438.4,422.3 438.5,421.0 438.5,420.9 438.5,420.1 438.5,420.5 438.5,419.0 438.5,420.4 438.6,418.8 438.6,420.0 438.6,416.9 438.6,418.2 438.6,417.0 438.6,418.1 438.7,416.9 438.7,417.5 438.7,415.4 438.7,416.8 438.7,414.8 438.7,416.2 438.8,413.8 438.8,415.8 438.8,412.9 438.8,415.1 438.8,412.9 438.8,413.6 438.8,411.3 438.9,413.2 438.9,411.8 438.9,412.5 438.9,410.2 438.9,412.2 438.9,409.3 439.0,411.2 439.0,408.7 439.0,410.1 439.0,409.0 439.0,409.1 439.0,407.5 439.1,409.0 439.1,407.1 439.1,408.1 439.1,406.0 439.1,407.4 439.2,406.1 439.2,406.5 439.2,405.0 439.2,406.6 439.3,403.7 439.3,405.4 439.3,403.5 439.3,405.2 439.4,402.9 439.4,403.7 439.4,402.5 439.4,402.8 439.4,401.9 439.5,403.4 439.5,400.2 439.5,401.9 439.5,400.3 439.6,400.6 439.6,400.1 439.6,400.1 439.6,399.4 439.7,400.4 439.7,398.5 439.7,399.0 439.7,397.5 439.8,398.5 439.8,396.6 439.8,397.9 439.8,396.3 439.9,397.2 439.9,394.8 439.9,396.7 439.9,394.0 439.9,396.2 440.0,393.5 440.0,394.4 440.0,392.8 440.0,394.0 440.1,392.0 440.1,393.8 440.1,391.1 440.1,392.2 440.2,391.7 440.2,392.4 440.2,389.8 440.2,391.4 440.3,389.1 440.3,391.2 440.3,388.9 440.3,390.6 440.4,387.8 440.4,389.1 440.4,386.9 440.4,388.3 440.4,387.5 440.5,387.5 440.5,385.8 440.5,387.7 440.5,385.7 440.6,386.1 440.6,385.1 440.6,385.8 440.6,383.9 440.7,385.9 440.7,383.6 440.7,384.6 440.7,382.7 440.8,383.8 440.8,382.1 440.8,383.6 440.8,381.8 440.9,382.3 440.9,380.5 440.9,381.9 440.9,380.1 440.9,380.6 441.0,378.7 441.0,380.4 441.0,379.0 441.0,379.5 441.1,377.7 441.1,378.3 441.1,377.4 441.1,378.8 441.2,376.3 441.2,377.3 441.2,376.0 441.3,376.9 441.3,374.7 441.3,376.2 441.3,373.8 441.4,375.2 441.4,373.4 441.4,374.3 441.5,372.9 441.5,374.2 441.5,372.1 441.5,373.7 441.6,371.6 441.6,373.0 441.6,370.7 441.7,371.7 441.7,370.8 441.7,371.7 441.7,369.4 441.8,370.7 441.8,368.8 441.8,370.3 441.9,368.3 441.9,369.3 441.9,366.8 441.9,369.0 442.0,366.6 442.0,367.5 442.0,366.4 442.1,367.1 442.1,365.0 442.1,365.8 442.1,364.1 442.2,365.9 442.2,364.1 442.2,365.1 442.3,363.5 442.3,364.6 442.3,363.1 442.3,363.8 442.4,361.3 442.4,363.0 442.4,360.8 442.5,361.8 442.5,360.5 442.5,362.0 442.5,359.6 442.6,360.4 442.6,358.8 442.6,359.9 442.7,358.9 442.7,358.8 442.7,357.0 442.7,358.9 442.8,356.8 442.8,358.2 442.8,356.4 442.9,357.2 442.9,355.6 442.9,356.6 442.9,354.4 443.0,355.7 443.0,354.2 443.0,354.8 443.1,353.1 443.1,354.7 443.1,352.4 443.1,353.8 443.2,352.1 443.2,352.8 443.2,351.7 443.3,352.6 443.3,350.1 443.3,351.6 443.3,350.0 443.4,350.5 443.4,349.2 443.4,350.6 443.5,348.2 443.5,349.8 443.5,347.4 443.6,348.9 443.6,347.2 443.7,347.8 443.7,346.6 443.8,347.9 443.8,345.4 443.9,346.8 443.9,344.9 444.0,346.3 444.0,344.0 444.1,345.2 444.1,343.6 444.2,344.3 444.2,342.5 444.3,344.0 444.4,342.5 444.4,343.2 444.5,341.3 444.5,343.1 444.6,340.4 444.6,341.5 444.7,340.2 444.7,340.8 444.8,340.0 444.8,340.7 444.9,338.4 444.9,339.8 445.0,337.7 445.0,338.8 445.1,337.1 445.1,339.0 445.2,336.5 445.2,338.3 445.2,336.0 445.3,337.3 445.3,335.0 445.4,336.7 445.4,335.1 445.5,335.4 445.5,334.5 445.6,334.6 445.6,332.9 445.7,333.8 445.7,331.9 445.8,334.0 445.8,332.0 445.9,333.2 445.9,330.8 446.0,331.7 446.0,330.1 446.1,332.0 446.1,329.3 446.2,330.7 446.2,328.9 446.2,329.8 446.3,328.4 446.4,329.4 446.4,327.6 446.5,328.7 446.6,327.3 446.6,328.5 446.7,326.4 446.8,327.7 446.8,325.3 446.9,327.1 447.0,324.3 447.0,326.0 447.1,324.0 447.2,325.6 447.2,323.0 447.3,324.9 447.4,323.5 447.4,324.3 447.5,322.5 447.6,322.7 447.6,321.6 447.7,323.2 447.8,321.0 447.8,322.0 447.9,319.8 448.0,321.9 448.0,318.9 448.1,320.9 448.2,319.2 448.3,319.8 448.4,318.3 448.5,320.3 448.6,318.1 448.7,319.2 448.8,315.5 448.9,318.5 449.0,314.8 449.1,318.5 449.2,313.0 449.3,318.2 449.4,312.3 449.5,317.9 449.6,314.0 449.8,318.6 449.9,310.0 450.0,315.9 450.1,310.4 450.2,318.2 450.3,308.8 450.4,316.2 450.5,310.6 450.6,317.3 450.7,308.6 450.9,316.8 451.1,309.2 451.2,315.9 451.4,304.4 451.6,316.6 451.8,303.5 451.9,312.6 452.1,304.3 452.3,310.6 452.5,304.8 452.7,311.5 452.8,305.1 453.0,311.1 453.2,304.0 453.4,313.6 453.6,304.5 453.8,308.6 454.1,302.7 454.4,309.5 454.7,302.7 454.9,310.0 455.2,299.1 455.5,311.3 455.8,303.4 456.1,309.5 456.4,299.2 456.7,311.0 457.0,302.9 457.4,309.9 457.7,300.8 458.1,310.4 458.4,303.2 458.8,310.2 459.1,300.7 459.4,307.1 459.7,298.4 460.0,305.8 460.4,305.2 460.7,310.4" fill="none" stroke="#cccccc" stroke-width="0.55"/><path d="M65.2,420.6 66.8,408.7 68.4,414.1 69.9,408.7 71.3,420.7 72.3,414.5 73.2,420.2 73.9,415.5 74.5,421.8 75.2,418.3 75.8,428.1 76.6,418.7 77.5,427.5 78.5,425.2 79.5,432.1 80.4,422.4 81.4,438.0 82.4,432.2 83.4,438.8 84.4,434.4 85.4,437.3 86.4,434.0 87.4,444.3 88.4,439.3 89.5,448.2 90.5,440.8 91.5,449.6 92.6,438.7 93.6,446.8 94.7,446.6 95.9,454.8 97.1,448.8 98.3,456.0 99.5,444.6 100.9,451.8 102.5,448.7 104.1,452.9 104.6,447.1 104.9,452.7 105.2,446.2 105.5,445.9 105.9,443.4 106.2,444.0 106.5,439.0 106.8,440.9 107.1,436.5 107.4,437.7 107.7,434.2 108.0,434.6 108.3,430.6 108.6,430.2 108.9,426.1 109.2,428.0 109.5,424.8 109.8,423.6 110.1,419.6 110.4,420.2 110.7,417.2 111.0,417.4 111.3,414.9 111.6,415.8 111.9,410.4 112.2,410.8 112.4,406.9 112.6,407.6 112.7,404.7 112.9,405.4 113.1,402.7 113.3,403.7 113.5,398.3 113.7,400.4 114.0,395.0 114.3,396.3 114.5,393.2 115.1,392.4 115.7,389.2 116.3,388.9 116.9,387.2 117.5,387.2 118.1,383.1 118.7,384.1 119.4,376.6 120.1,382.2 121.1,372.5 122.1,378.0 123.1,370.0 124.1,381.4 125.5,369.6 127.1,376.4 128.7,368.1 130.2,374.4 131.8,367.0 133.2,376.6 134.6,371.0 136.0,375.1 137.1,372.0 138.3,374.9 139.4,368.8 140.3,378.4 141.2,370.8 142.0,386.3 142.8,373.7 143.7,382.7 144.6,375.2 145.5,386.9 146.4,379.3 147.2,387.8 148.1,387.3 149.0,393.7 150.5,385.0 152.0,391.5 153.5,383.9 154.9,399.4 156.4,389.9 157.9,396.1 159.3,389.4 160.8,396.2 162.1,392.9 163.5,401.4 164.9,396.7 166.1,400.2 167.3,389.0 168.5,407.8 169.7,401.1 170.8,409.5 172.0,403.6 173.4,406.9 174.9,404.1 176.5,406.2 178.0,401.3 179.5,407.8 181.0,400.8 182.5,408.4 184.0,401.4 185.5,414.4 187.1,405.3 188.6,413.1 190.1,403.2 191.7,415.3 193.2,409.1 194.8,414.6 196.3,407.2 197.7,413.2 199.2,403.5 200.6,416.1 202.0,411.3 203.5,414.5 204.9,413.8 206.3,415.7 207.7,408.3 209.1,420.8 210.6,412.0 212.2,421.8 213.7,411.7 215.3,418.8 216.8,418.0 218.3,423.2 219.8,419.3 221.4,420.8 222.9,419.1 224.5,421.1 226.1,420.0 227.7,424.4 229.1,418.4 230.6,425.7 232.0,421.2 233.5,425.4 235.0,422.5 236.5,425.7 238.1,420.7 239.6,427.2 241.1,424.0 242.7,426.7 244.2,419.2 245.8,424.8 247.4,417.8 249.0,426.3 250.5,422.1 252.1,425.4 253.7,419.6 255.3,424.8 256.9,421.5 258.3,421.5 259.7,420.3 260.9,425.6 262.1,420.8 263.3,425.6 264.9,419.3 266.4,426.2 268.0,422.6 269.5,426.0 271.0,426.1 272.5,428.3 274.1,425.6 275.6,427.8 277.2,427.2 278.8,427.8 280.4,426.9 282.0,429.2 283.4,425.5 284.9,428.5 286.4,425.4 287.8,427.6 289.2,423.8 290.8,427.8 292.3,427.0 293.6,428.4 294.9,427.2 296.1,430.8 297.3,429.9 298.6,433.7 299.9,431.6 301.3,434.9 302.6,433.7 304.0,437.5 305.6,432.8 307.1,436.4 308.7,433.2 310.3,437.9 311.8,433.9 313.3,439.9 314.8,437.4 316.3,440.1 317.9,437.8 319.5,438.2 321.1,435.1 322.7,441.7 324.2,435.9 325.8,440.9 327.3,436.5 328.8,441.5 330.1,437.5 331.3,441.4 332.4,437.1 333.6,438.1 335.1,436.1 336.6,439.6 337.9,432.7 339.3,439.9 340.6,438.3 341.9,439.5 343.2,438.9 344.6,443.8 346.1,439.8 347.6,442.7 349.0,442.6 350.5,445.4 351.9,440.0 353.3,445.6 354.8,442.1 356.2,447.8 357.7,446.2 359.2,449.0 360.7,447.2 362.2,449.2 363.7,446.5 365.2,449.3 366.7,445.7 367.9,449.1 369.1,446.5 370.3,450.3 371.7,446.0 373.2,451.9 374.7,450.3 376.0,455.0 377.3,450.9 378.5,456.7 379.7,452.9 381.0,457.2 382.4,456.7 383.8,458.5 385.2,455.2 386.6,462.1 388.2,456.7 389.8,459.4 391.3,454.9 392.9,458.4 394.4,455.0 395.9,459.0 397.3,455.1 398.8,464.5 400.3,454.2 401.7,460.6 403.2,455.7 404.6,461.0 406.1,457.0 407.6,457.9 409.2,456.6 410.7,458.6 412.2,456.4 413.7,462.9 415.1,455.7 416.6,465.6 418.0,461.5 419.6,464.4 421.1,456.9 422.7,465.1 424.2,459.7 425.8,462.4 427.4,460.0 429.0,460.4 430.6,454.4 432.2,460.2 433.3,455.3 434.1,459.5 434.4,452.0 434.7,454.4 434.9,452.0 435.2,451.7 435.5,448.1 435.7,448.2 436.0,445.9 436.3,445.5 436.5,442.3 436.8,441.4 437.0,438.7 437.3,438.5 437.6,436.2 437.8,435.9 437.9,433.3 438.0,432.7 438.0,429.7 438.1,428.8 438.2,426.8 438.3,426.2 438.3,422.2 438.4,423.2 438.5,419.2 438.6,418.9 438.6,416.2 438.7,417.3 438.8,412.7 438.9,412.9 438.9,409.9 439.0,410.0 439.1,407.6 439.2,406.8 439.3,404.5 439.4,403.1 439.5,401.1 439.6,400.3 439.7,397.3 439.8,397.7 439.9,394.9 440.1,394.7 440.2,390.6 440.3,390.5 440.4,388.5 440.5,387.1 440.6,385.2 440.7,384.4 440.8,381.5 440.9,381.0 441.0,379.0 441.2,378.2 441.3,375.4 441.4,375.6 441.5,372.2 441.7,372.2 441.8,368.3 441.9,367.9 442.1,365.5 442.2,364.6 442.3,362.7 442.5,363.0 442.6,359.7 442.7,358.9 442.8,355.4 443.0,356.3 443.1,352.4 443.2,352.3 443.4,349.2 443.5,348.8 443.7,347.0 444.0,346.8 444.2,342.9 444.4,342.5 444.7,340.2 444.9,340.8 445.1,336.8 445.3,337.5 445.6,332.9 445.8,333.0 446.0,330.0 446.2,329.8 446.5,327.3 446.8,327.3 447.1,324.0 447.4,324.2 447.7,320.4 448.0,321.2 448.4,318.5 448.9,319.9 449.4,315.0 449.9,315.0 450.4,309.7 450.9,318.4 451.7,302.4 452.6,313.0 453.4,300.8 454.5,306.2 455.8,300.3 457.3,312.4 458.9,302.7 460.3,306.0" fill="none" stroke="#bcbcbc" stroke-width="0.55"/><path d="M65.2,413.5 C65.6,413.5 68.4,413.6 69.1,413.8 C69.8,414.0 71.2,414.7 71.7,415.2 C72.2,415.7 73.0,416.9 73.5,417.9 C74.0,418.9 75.2,422.6 76.1,424.1 C77.0,425.6 80.0,429.3 81.4,431.1 C82.8,432.9 87.0,438.1 88.5,439.9 C90.0,441.7 93.3,445.7 94.6,447.0 C95.9,448.3 98.8,451.2 99.9,451.7 C101.0,452.2 103.5,452.9 104.3,451.4 C105.1,449.9 106.4,441.1 107.0,438.1 C107.6,435.1 109.0,427.2 109.6,424.1 C110.2,421.0 111.9,412.7 112.3,410.0 C112.7,407.3 113.1,401.9 113.4,400.0 C113.7,398.1 114.2,394.4 114.6,393.0 C115.0,391.6 116.4,388.6 116.8,387.5 C117.2,386.4 118.0,384.4 118.4,383.5 C118.8,382.6 119.5,380.8 120.2,379.8 C120.9,378.8 123.5,375.4 124.4,374.7 C125.3,374.0 127.8,373.9 128.6,373.9 C129.4,373.9 131.1,374.9 132.0,374.7 C132.9,374.5 135.4,372.1 136.3,372.2 C137.2,372.3 138.9,374.5 139.7,375.6 C140.5,376.7 142.9,380.8 143.9,382.4 C144.9,384.0 147.8,388.9 149.0,390.0 C150.2,391.1 153.6,391.9 154.9,392.5 C156.2,393.1 159.7,394.5 160.8,395.1 C161.9,395.7 163.8,396.7 165.1,397.8 C166.4,398.9 171.2,403.7 172.7,404.6 C174.2,405.5 177.2,405.8 178.6,406.3 C180.0,406.8 183.9,408.3 185.4,408.8 C186.9,409.3 191.0,410.7 192.2,410.8 C193.4,410.9 195.4,409.5 196.4,409.7 C197.4,409.9 200.1,411.5 201.5,412.2 C202.9,412.9 207.6,415.7 209.2,416.4 C210.8,417.1 214.4,417.7 215.9,418.1 C217.4,418.5 221.4,420.0 222.7,420.3 C224.0,420.6 226.5,420.3 227.8,420.7 C229.1,421.1 232.9,423.2 234.2,423.7 C235.5,424.2 238.1,425.1 239.3,425.1 C240.5,425.1 243.9,423.7 245.3,423.4 C246.7,423.1 250.8,422.6 252.0,422.5 C253.2,422.4 255.4,422.6 256.3,422.4 C257.2,422.2 259.0,420.6 259.7,420.7 C260.4,420.8 262.0,423.2 263.0,423.7 C264.0,424.2 267.8,425.0 269.0,425.4 C270.2,425.8 272.8,426.9 274.1,427.1 C275.4,427.3 279.7,427.3 280.8,427.5 C281.9,427.7 283.3,428.9 284.2,428.8 C285.1,428.7 288.4,426.5 289.3,426.3 C290.2,426.1 291.8,426.5 292.7,427.1 C293.6,427.7 296.6,430.5 297.8,431.4 C299.0,432.3 302.3,434.8 303.7,435.3 C305.1,435.8 308.8,435.9 310.2,436.2 C311.6,436.5 314.9,438.2 316.1,438.4 C317.3,438.6 320.2,437.9 321.2,437.9 C322.2,437.9 324.5,438.4 325.4,438.7 C326.3,439.0 328.8,440.6 329.7,440.4 C330.6,440.2 332.4,437.5 333.1,437.0 C333.8,436.5 335.7,435.6 336.4,435.7 C337.1,435.8 339.0,437.4 339.8,437.9 C340.6,438.4 342.2,439.8 343.2,440.4 C344.2,441.0 347.8,442.3 349.2,443.0 C350.6,443.7 354.4,445.7 355.9,446.4 C357.4,447.1 361.5,448.8 362.7,448.9 C363.9,449.0 366.0,447.0 366.9,447.2 C367.8,447.4 369.6,450.0 370.5,450.5 C371.4,451.0 374.0,451.4 375.1,452.0 C376.2,452.6 379.0,455.4 380.2,456.3 C381.4,457.2 384.6,459.5 386.1,459.7 C387.6,459.9 392.3,457.9 393.7,458.0 C395.1,458.1 397.5,460.3 398.8,460.2 C400.1,460.1 404.2,457.3 405.6,457.1 C407.0,456.9 410.1,458.3 411.5,458.8 C412.9,459.3 416.9,461.7 418.3,461.9 C419.7,462.1 422.6,460.8 424.2,460.5 C425.8,460.2 431.6,459.6 432.7,459.2 C433.8,458.8 433.7,458.6 434.1,457.1 C434.5,455.6 435.7,447.7 436.1,445.3 C436.5,442.9 437.5,439.3 437.8,435.1 C438.1,430.9 438.7,413.7 439.1,407.4 C439.5,401.1 440.6,384.5 441.1,378.0 C441.6,371.5 443.1,352.9 443.5,348.7 C443.9,344.5 444.5,342.2 444.8,340.0 C445.1,337.8 445.9,331.4 446.3,329.1 C446.7,326.8 447.7,321.4 448.2,319.4 C448.7,317.4 450.1,312.9 450.7,311.5 C451.3,310.1 453.0,307.4 453.6,306.6 C454.2,305.8 455.9,304.7 456.5,304.5 C457.1,304.3 458.5,304.4 459.0,304.5 C459.5,304.6 460.7,305.4 460.9,305.5" fill="none" stroke="#545454" stroke-width="1.15" stroke-linejoin="round"/><rect x="49" y="290.8" width="420.5" height="182" fill="none" stroke="#8c8c8c" stroke-width="1.6"/><path d="M46,472.8 H49 M46,446.8 H49 M46,420.8 H49 M46,394.8 H49 M46,368.8 H49 M46,342.8 H49 M46,316.8 H49 M46,290.8 H49 M127.7,472.8 V476 M233.0,472.8 V476 M338.2,472.8 V476 M443.5,472.8 V476 " stroke="#8c8c8c" stroke-width="1.2" fill="none"/><g font-family="Liberation Sans" font-size="9" fill="#2a2a2a" stroke="#2a2a2a" stroke-width="0.2"><text transform="translate(42.3,475.1) scale(0.87,1)" text-anchor="end">60</text><text transform="translate(42.3,449.1) scale(0.87,1)" text-anchor="end">80</text><text transform="translate(42.3,423.1) scale(0.87,1)" text-anchor="end">100</text><text transform="translate(42.3,397.1) scale(0.87,1)" text-anchor="end">120</text><text transform="translate(42.3,371.1) scale(0.87,1)" text-anchor="end">140</text><text transform="translate(42.3,345.1) scale(0.87,1)" text-anchor="end">160</text><text transform="translate(42.3,319.1) scale(0.87,1)" text-anchor="end">180</text><text transform="translate(42.3,293.1) scale(0.87,1)" text-anchor="end">200</text><text transform="translate(127.7,486.2) scale(0.87,1)" text-anchor="middle">40</text><text transform="translate(233.0,486.2) scale(0.87,1)" text-anchor="middle">60</text><text transform="translate(338.2,486.2) scale(0.87,1)" text-anchor="middle">80</text><text transform="translate(443.5,486.2) scale(0.87,1)" text-anchor="middle">100</text></g><g stroke="#626262" stroke-width="1.1" fill="none" stroke-linecap="round" stroke-linejoin="round"><path d="M97.3,43.7 L80.3,36.1 M92.3,37.4 L80.3,36.1 L89.3,44.2"/><circle cx="81.4" cy="36.6" r="1.1" fill="#1a1a1a" stroke="none"/><path d="M148.7,78.8 L148.7,96.4 M145.0,84.9 L148.7,96.4 L152.4,84.9"/><circle cx="148.7" cy="95.2" r="1.1" fill="#1a1a1a" stroke="none"/><path d="M132.9,201.5 L121.0,188.1 M131.4,194.2 L121.0,188.1 L125.9,199.2"/><circle cx="121.8" cy="189.0" r="1.1" fill="#1a1a1a" stroke="none"/><path d="M279.2,113.3 L279.2,131.3 M275.5,119.8 L279.2,131.3 L282.9,119.8"/><circle cx="279.2" cy="130.1" r="1.1" fill="#1a1a1a" stroke="none"/><path d="M408.8,169.7 L408.8,195.5 M405.1,184.0 L408.8,195.5 L412.5,184.0"/><circle cx="408.8" cy="194.3" r="1.1" fill="#1a1a1a" stroke="none"/><path d="M68.2,383.9 L68.2,403.7 M64.5,392.2 L68.2,403.7 L71.9,392.2"/><circle cx="68.2" cy="402.5" r="1.1" fill="#1a1a1a" stroke="none"/><path d="M136.4,340.5 L136.4,364.2 M132.7,352.7 L136.4,364.2 L140.1,352.7"/><circle cx="136.4" cy="363.0" r="1.1" fill="#1a1a1a" stroke="none"/><path d="M142.2,458.4 L120.5,448.6 M132.5,450.0 L120.5,448.6 L129.5,456.7"/><circle cx="121.6" cy="449.1" r="1.1" fill="#1a1a1a" stroke="none"/><path d="M255.5,392.0 L255.5,410.0 M251.8,398.5 L255.5,410.0 L259.2,398.5"/><circle cx="255.5" cy="408.8" r="1.1" fill="#1a1a1a" stroke="none"/><path d="M430.1,428.6 L430.1,451.8 M426.4,440.3 L430.1,451.8 L433.8,440.3"/><circle cx="430.1" cy="450.6" r="1.1" fill="#1a1a1a" stroke="none"/></g><g font-family="Liberation Sans" font-size="12" fill="#262626" stroke="#262626" stroke-width="0.5"><text x="104" y="49.6">Amiloride</text><text x="139.5" y="72.2" >SC-560</text><text x="137.5" y="204.7">Theophylline</text><text x="240.2" y="105">Indomethacin</text><text x="342.3" y="159">Prostaglandin</text><text x="53.1" y="376.6">Amiloride</text><text x="120.3" y="333.7">Celecoxib</text><text x="147.8" y="459.8">Theophylline</text><text x="234.2" y="389.5">Indomethacin</text><text x="359.5" y="423.7">Prostaglandin</text></g><text x="254.2" y="13.2" font-family="Liberation Sans" font-size="17" fill="#1e1e1e" stroke="#1e1e1e" stroke-width="0.2" text-anchor="middle">SC-560</text><text x="259.8" y="279.3" font-family="Liberation Sans" font-size="17" fill="#1e1e1e" stroke="#1e1e1e" stroke-width="0.2" text-anchor="middle">Celecoxib</text><text x="6" y="19.2" font-family="Liberation Sans" font-size="24" font-weight="bold" fill="#000">a</text><text x="7.5" y="291.8" font-family="Liberation Sans" font-size="23" font-weight="bold" fill="#000">b</text><text x="215" y="253.2" font-family="Liberation Serif" font-size="15" font-weight="bold" fill="#1e1e1e" letter-spacing="0.62">Time (min)</text><text x="215" y="505.6" font-family="Liberation Serif" font-size="15" font-weight="bold" fill="#1e1e1e" letter-spacing="0.55">Time (min)</text><text transform="translate(19.7,121.3) rotate(-90)" font-family="Liberation Serif" font-size="15.3" font-weight="bold" fill="#1e1e1e" text-anchor="middle">SCC (µA·cm<tspan font-size="8.6" dy="-11">-2</tspan><tspan dy="11">)</tspan></text><text transform="translate(18.2,388.8) rotate(-90)" font-family="Liberation Serif" font-size="15" font-weight="bold" fill="#1e1e1e" text-anchor="middle">SCC (µA·cm<tspan font-size="8.6" dy="-11">-2</tspan><tspan dy="11">)</tspan></text></svg>
</body></html>
